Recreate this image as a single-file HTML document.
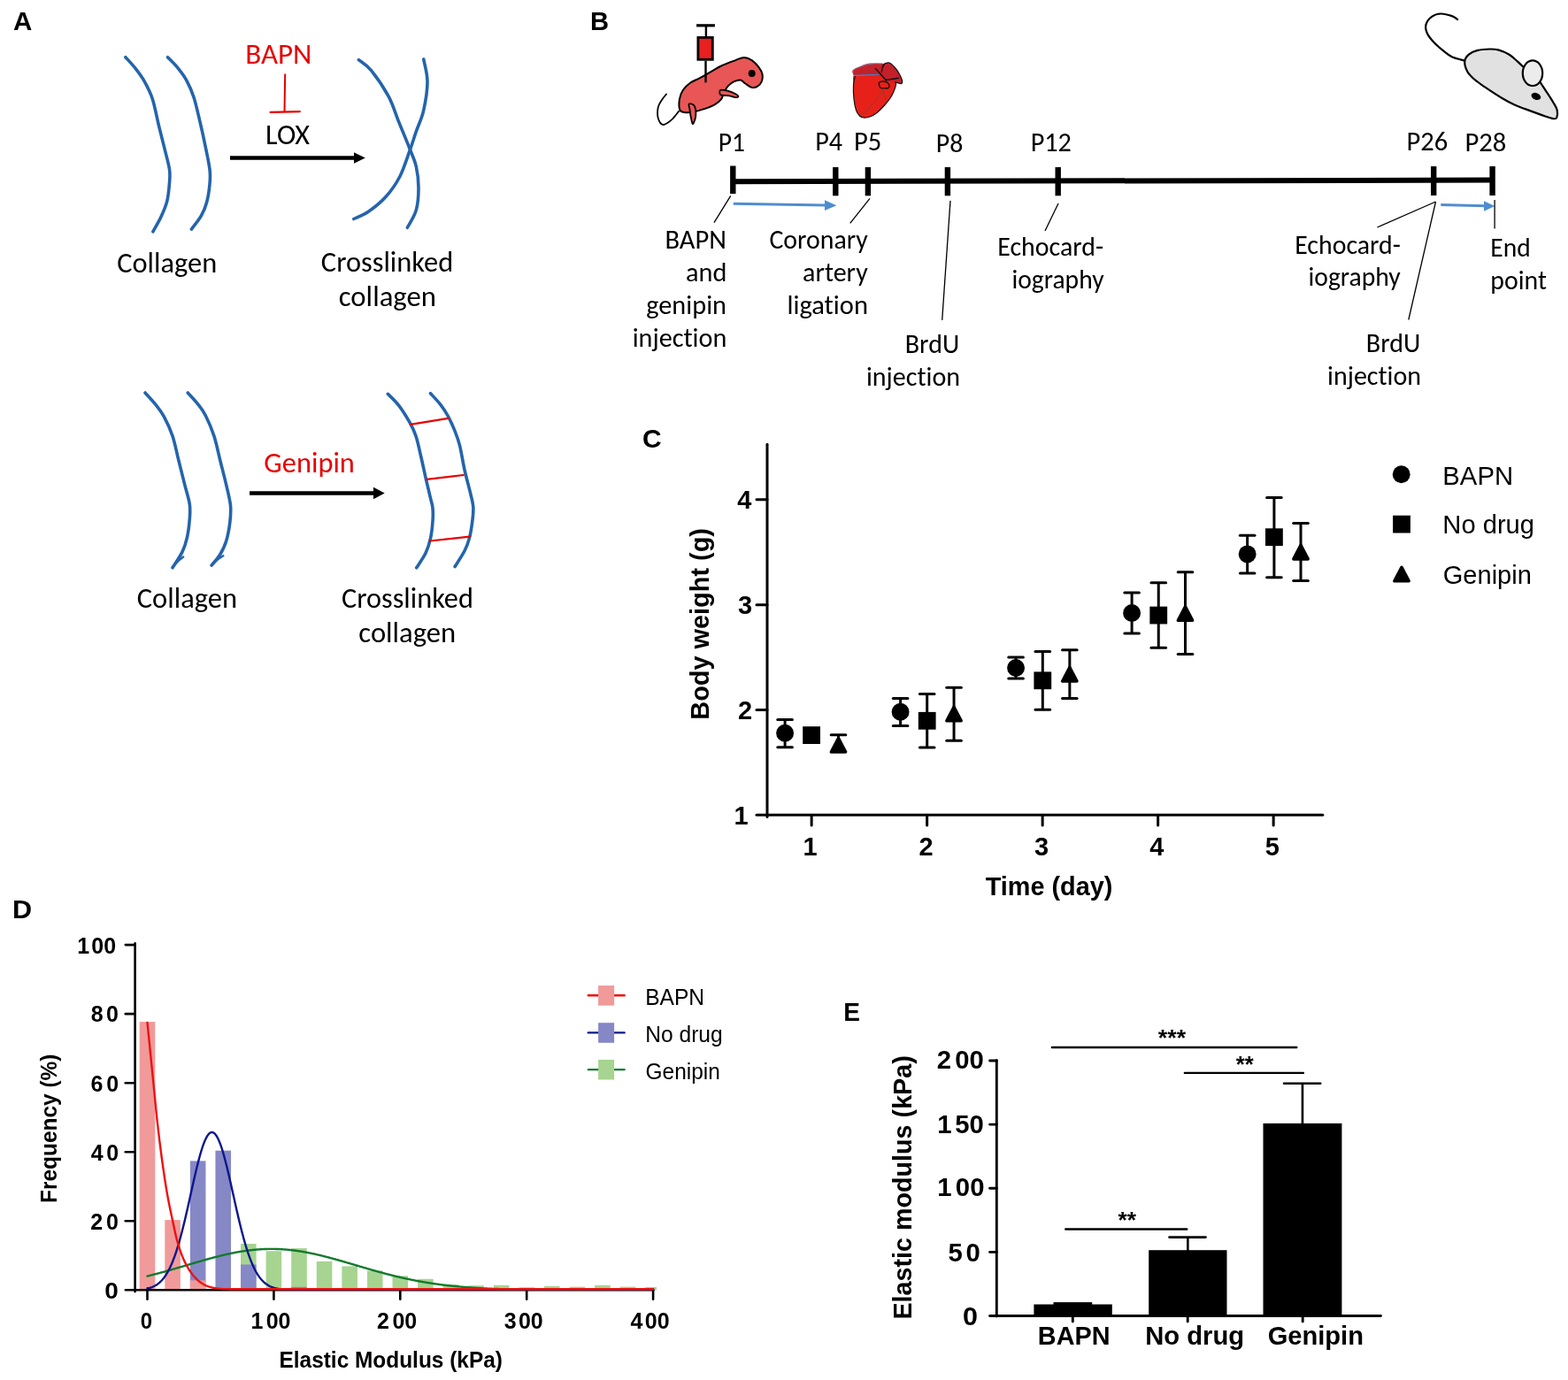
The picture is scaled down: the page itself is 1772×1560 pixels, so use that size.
<!DOCTYPE html>
<html><head><meta charset="utf-8"><title>Figure</title>
<style>html,body{margin:0;padding:0;background:#fff;width:1772px;height:1560px;overflow:hidden}svg{display:block}</style>
</head><body>
<svg width="1772" height="1560" viewBox="0 0 1772 1560">
<rect x="0" y="0" width="1772" height="1560" fill="#fff"/>
<text x="15.06" y="33.6" style="font-family:'Liberation Sans',Arial,sans-serif;font-variant-ligatures:none;font-size:30px;font-weight:bold" fill="#000" text-anchor="start" textLength="21.34" lengthAdjust="spacingAndGlyphs">A</text>
<text x="667.1" y="33.6" style="font-family:'Liberation Sans',Arial,sans-serif;font-variant-ligatures:none;font-size:30px;font-weight:bold" fill="#000" text-anchor="start" textLength="21.07" lengthAdjust="spacingAndGlyphs">B</text>
<text x="725.9" y="505.5" style="font-family:'Liberation Sans',Arial,sans-serif;font-variant-ligatures:none;font-size:30px;font-weight:bold" fill="#000" text-anchor="start" textLength="21.67" lengthAdjust="spacingAndGlyphs">C</text>
<text x="14.07" y="1037.8" style="font-family:'Liberation Sans',Arial,sans-serif;font-variant-ligatures:none;font-size:30px;font-weight:bold" fill="#000" text-anchor="start" textLength="22.12" lengthAdjust="spacingAndGlyphs">D</text>
<text x="953.18" y="1154.2" style="font-family:'Liberation Sans',Arial,sans-serif;font-variant-ligatures:none;font-size:30px;font-weight:bold" fill="#000" text-anchor="start" textLength="18.71" lengthAdjust="spacingAndGlyphs">E</text>
<path d="M141.9 64.7 C143.73 66.77 149.45 72.73 152.9 77.1 C156.35 81.47 159.38 85.17 162.6 90.9 C165.82 96.63 169.45 103.23 172.2 111.5 C174.95 119.77 176.8 131.07 179.1 140.5 C181.4 149.93 183.93 159.6 186 168.1 C188.07 176.6 190.58 185.07 191.5 191.5 C192.42 197.93 191.95 200.72 191.5 206.7 C191.05 212.68 190.4 220.97 188.8 227.4 C187.2 233.83 184.55 239.57 181.9 245.3 C179.25 251.03 174.4 259.05 172.9 261.8" stroke="#2464ac" stroke-width="3.6" fill="none" stroke-linecap="round" stroke-linejoin="round"/>
<path d="M189.5 64.7 C191.45 66.77 197.65 72.73 201.2 77.1 C204.75 81.47 207.82 85.38 210.8 90.9 C213.78 96.42 216.57 102.4 219.1 110.2 C221.63 118 223.93 128.97 226 137.7 C228.07 146.43 229.67 153.63 231.5 162.6 C233.33 171.57 236.08 183.92 237 191.5 C237.92 199.08 237.57 201.9 237 208.1 C236.43 214.3 235.2 222.73 233.6 228.7 C232 234.67 230.27 238.83 227.4 243.9 C224.53 248.97 218.23 256.57 216.4 259.1" stroke="#2464ac" stroke-width="3.6" fill="none" stroke-linecap="round" stroke-linejoin="round"/>
<path d="M405.4 67.6 C407.75 69.6 413.87 72.67 419.5 79.6 C425.13 86.53 434.03 99.57 439.2 109.2 C444.37 118.83 446.5 127.52 450.5 137.4 C454.5 147.28 459.9 160.03 463.2 168.5 C466.5 176.97 468.67 180.92 470.3 188.2 C471.93 195.48 473 203.97 473 212.2 C473 220.43 472.4 230.08 470.3 237.6 C468.2 245.12 462.05 254.02 460.4 257.3" stroke="#2464ac" stroke-width="3.6" fill="none" stroke-linecap="round" stroke-linejoin="round"/>
<path d="M478.7 66.9 C479.42 71.13 483 82.65 483 92.3 C483 101.95 480.82 115.4 478.7 124.8 C476.58 134.2 472.88 141.18 470.3 148.7 C467.72 156.22 466.27 161.43 463.2 169.9 C460.13 178.37 456.37 190.82 451.9 199.5 C447.43 208.18 442.27 215.42 436.4 222 C430.53 228.58 422.82 234.75 416.7 239 C410.58 243.25 402.53 246.08 399.7 247.5" stroke="#2464ac" stroke-width="3.6" fill="none" stroke-linecap="round" stroke-linejoin="round"/>
<path d="M164 444 C165.95 446.18 172.15 452.62 175.7 457.1 C179.25 461.58 182.08 464.93 185.3 470.9 C188.52 476.87 192.23 484.63 195 492.9 C197.77 501.17 199.6 511.3 201.9 520.5 C204.2 529.7 206.73 539.83 208.8 548.1 C210.87 556.37 213.38 563.67 214.3 570.1 C215.22 576.53 214.77 580.48 214.3 586.7 C213.83 592.92 212.88 601.2 211.5 607.4 C210.12 613.6 208.75 618.17 206 623.9 C203.25 629.63 196.83 638.82 195 641.8" stroke="#2464ac" stroke-width="3.6" fill="none" stroke-linecap="round" stroke-linejoin="round"/>
<path d="M212.2 444 C214.15 446.18 220.57 452.85 223.9 457.1 C227.23 461.35 229.2 463.53 232.2 469.5 C235.2 475.47 239.13 484.4 241.9 492.9 C244.67 501.4 246.5 511.3 248.8 520.5 C251.1 529.7 253.75 539.6 255.7 548.1 C257.65 556.6 259.82 564.38 260.5 571.5 C261.18 578.62 260.6 584.13 259.8 590.8 C259 597.47 257.53 605.52 255.7 611.5 C253.87 617.48 251.57 622.1 248.8 626.7 C246.03 631.3 240.72 637.03 239.1 639.1" stroke="#2464ac" stroke-width="3.6" fill="none" stroke-linecap="round" stroke-linejoin="round"/>
<path d="M438.3 445.3 C440.37 447.48 446.57 453 450.7 458.4 C454.83 463.8 459.88 471.95 463.1 477.7 C466.32 483.45 467.93 486.68 470 492.9 C472.07 499.12 473.67 507.18 475.5 515 C477.33 522.82 479.17 531.77 481 539.8 C482.83 547.83 485.17 557.45 486.5 563.2 C487.83 568.95 488.58 569.93 489 574.3 C489.42 578.67 489.42 583.67 489 589.4 C488.58 595.13 487.83 602.72 486.5 608.7 C485.17 614.68 483.63 619.78 481 625.3 C478.37 630.82 472.42 639.05 470.7 641.8" stroke="#2464ac" stroke-width="3.6" fill="none" stroke-linecap="round" stroke-linejoin="round"/>
<path d="M486.5 444.7 C488.35 446.77 494.38 452.97 497.6 457.1 C500.82 461.23 503.05 464.45 505.8 469.5 C508.55 474.55 511.8 481.67 514.1 487.4 C516.4 493.13 517.77 496.55 519.6 503.9 C521.43 511.25 523.03 522.3 525.1 531.5 C527.17 540.7 530.38 552.2 532 559.1 C533.62 566 534.45 568.3 534.8 572.9 C535.15 577.5 534.78 580.95 534.1 586.7 C533.42 592.45 532.2 601.43 530.7 607.4 C529.2 613.37 527.87 616.98 525.1 622.5 C522.33 628.02 515.93 637.5 514.1 640.5" stroke="#2464ac" stroke-width="3.6" fill="none" stroke-linecap="round" stroke-linejoin="round"/>
<path d="M196.5 639.5 Q202 633 207.2 629.6" stroke="#2464ac" stroke-width="2.4" fill="none" stroke-linecap="round" stroke-linejoin="round"/>
<path d="M240.5 637.2 Q246.5 631.5 252.3 628.2" stroke="#2464ac" stroke-width="2.4" fill="none" stroke-linecap="round" stroke-linejoin="round"/>
<line x1="463.8" y1="479.8" x2="506.5" y2="472.9" stroke="#e60000" stroke-width="2.2" stroke-linecap="round"/>
<line x1="482.4" y1="541.9" x2="523.8" y2="537" stroke="#e60000" stroke-width="2.2" stroke-linecap="round"/>
<line x1="485.8" y1="611.5" x2="530.7" y2="606.7" stroke="#e60000" stroke-width="2.2" stroke-linecap="round"/>
<text x="277.29" y="71.5" style="font-family:Carlito,'Liberation Sans',sans-serif;font-variant-ligatures:none;font-size:32.4px;font-weight:normal" fill="#e60000" text-anchor="start" textLength="75.12" lengthAdjust="spacingAndGlyphs">BAPN</text>
<line x1="322.2" y1="83.5" x2="321.5" y2="126.5" stroke="#e60000" stroke-width="2" stroke-linecap="butt"/>
<line x1="305.5" y1="126.8" x2="338.8" y2="126.2" stroke="#e60000" stroke-width="2.2" stroke-linecap="round"/>
<text x="300.11" y="163.2" style="font-family:Carlito,'Liberation Sans',sans-serif;font-variant-ligatures:none;font-size:32.4px;font-weight:normal" fill="#000" text-anchor="start" textLength="49.86" lengthAdjust="spacingAndGlyphs">LOX</text>
<line x1="260" y1="178.5" x2="401" y2="178.5" stroke="#000" stroke-width="4.5" stroke-linecap="butt"/>
<polygon points="400,172.2 412.8,178.5 400,184.8" fill="#000" stroke="none" stroke-width="0"/>
<line x1="282" y1="557.5" x2="423" y2="557.5" stroke="#000" stroke-width="4.5" stroke-linecap="butt"/>
<polygon points="422,550.8 434.7,557.5 422,564.2" fill="#000" stroke="none" stroke-width="0"/>
<text x="298.37" y="533.8" style="font-family:Carlito,'Liberation Sans',sans-serif;font-variant-ligatures:none;font-size:32.4px;font-weight:normal" fill="#e60000" text-anchor="start" textLength="102.53" lengthAdjust="spacingAndGlyphs">Genipin</text>
<text x="132.23" y="307.5" style="font-family:Carlito,'Liberation Sans',sans-serif;font-variant-ligatures:none;font-size:32.4px;font-weight:normal" fill="#000" text-anchor="start" textLength="112.98" lengthAdjust="spacingAndGlyphs">Collagen</text>
<text x="362.83" y="307.2" style="font-family:Carlito,'Liberation Sans',sans-serif;font-variant-ligatures:none;font-size:32.4px;font-weight:normal" fill="#000" text-anchor="start" textLength="149.45" lengthAdjust="spacingAndGlyphs">Crosslinked</text>
<text x="382.75" y="346.3" style="font-family:Carlito,'Liberation Sans',sans-serif;font-variant-ligatures:none;font-size:32.4px;font-weight:normal" fill="#000" text-anchor="start" textLength="110.32" lengthAdjust="spacingAndGlyphs">collagen</text>
<text x="154.72" y="687.4" style="font-family:Carlito,'Liberation Sans',sans-serif;font-variant-ligatures:none;font-size:32.4px;font-weight:normal" fill="#000" text-anchor="start" textLength="113.29" lengthAdjust="spacingAndGlyphs">Collagen</text>
<text x="386.03" y="687.1" style="font-family:Carlito,'Liberation Sans',sans-serif;font-variant-ligatures:none;font-size:32.4px;font-weight:normal" fill="#000" text-anchor="start" textLength="148.93" lengthAdjust="spacingAndGlyphs">Crosslinked</text>
<text x="405.36" y="726.2" style="font-family:Carlito,'Liberation Sans',sans-serif;font-variant-ligatures:none;font-size:32.4px;font-weight:normal" fill="#000" text-anchor="start" textLength="109.91" lengthAdjust="spacingAndGlyphs">collagen</text>
<line x1="826" y1="205.2" x2="1689" y2="203.6" stroke="#000" stroke-width="6" stroke-linecap="butt"/>
<line x1="828.3" y1="187.5" x2="828.3" y2="219" stroke="#000" stroke-width="6.4" stroke-linecap="butt"/>
<line x1="944.3" y1="189" x2="944.3" y2="221.3" stroke="#000" stroke-width="6.4" stroke-linecap="butt"/>
<line x1="980.9" y1="189" x2="980.9" y2="221.3" stroke="#000" stroke-width="6.4" stroke-linecap="butt"/>
<line x1="1070.9" y1="189" x2="1070.9" y2="221.3" stroke="#000" stroke-width="6.4" stroke-linecap="butt"/>
<line x1="1195.7" y1="189" x2="1195.7" y2="221.3" stroke="#000" stroke-width="6.4" stroke-linecap="butt"/>
<line x1="1620.2" y1="188" x2="1620.2" y2="221" stroke="#000" stroke-width="6.4" stroke-linecap="butt"/>
<line x1="1686.6" y1="188" x2="1686.6" y2="221" stroke="#000" stroke-width="6.4" stroke-linecap="butt"/>
<text x="811.74" y="170.7" style="font-family:Carlito,'Liberation Sans',sans-serif;font-variant-ligatures:none;font-size:30.2px;font-weight:normal" fill="#000" text-anchor="start" textLength="30.14" lengthAdjust="spacingAndGlyphs">P1</text>
<text x="921.19" y="170" style="font-family:Carlito,'Liberation Sans',sans-serif;font-variant-ligatures:none;font-size:30.2px;font-weight:normal" fill="#000" text-anchor="start" textLength="30.87" lengthAdjust="spacingAndGlyphs">P4</text>
<text x="965.06" y="169.8" style="font-family:Carlito,'Liberation Sans',sans-serif;font-variant-ligatures:none;font-size:30.2px;font-weight:normal" fill="#000" text-anchor="start" textLength="31.33" lengthAdjust="spacingAndGlyphs">P5</text>
<text x="1057.81" y="172.4" style="font-family:Carlito,'Liberation Sans',sans-serif;font-variant-ligatures:none;font-size:30.2px;font-weight:normal" fill="#000" text-anchor="start" textLength="30.54" lengthAdjust="spacingAndGlyphs">P8</text>
<text x="1164.69" y="171" style="font-family:Carlito,'Liberation Sans',sans-serif;font-variant-ligatures:none;font-size:30.2px;font-weight:normal" fill="#000" text-anchor="start" textLength="46.23" lengthAdjust="spacingAndGlyphs">P12</text>
<text x="1589.56" y="170" style="font-family:Carlito,'Liberation Sans',sans-serif;font-variant-ligatures:none;font-size:30.2px;font-weight:normal" fill="#000" text-anchor="start" textLength="46.71" lengthAdjust="spacingAndGlyphs">P26</text>
<text x="1655.46" y="170.7" style="font-family:Carlito,'Liberation Sans',sans-serif;font-variant-ligatures:none;font-size:30.2px;font-weight:normal" fill="#000" text-anchor="start" textLength="46.88" lengthAdjust="spacingAndGlyphs">P28</text>
<text x="751.47" y="281.25" style="font-family:Carlito,'Liberation Sans',sans-serif;font-variant-ligatures:none;font-size:30.2px;font-weight:normal" fill="#000" text-anchor="start" textLength="69.37" lengthAdjust="spacingAndGlyphs">BAPN</text>
<text x="774.99" y="318.3" style="font-family:Carlito,'Liberation Sans',sans-serif;font-variant-ligatures:none;font-size:30.2px;font-weight:normal" fill="#000" text-anchor="start" textLength="46.33" lengthAdjust="spacingAndGlyphs">and</text>
<text x="730.29" y="354.8" style="font-family:Carlito,'Liberation Sans',sans-serif;font-variant-ligatures:none;font-size:30.2px;font-weight:normal" fill="#000" text-anchor="start" textLength="90.73" lengthAdjust="spacingAndGlyphs">genipin</text>
<text x="714.64" y="391.8" style="font-family:Carlito,'Liberation Sans',sans-serif;font-variant-ligatures:none;font-size:30.2px;font-weight:normal" fill="#000" text-anchor="start" textLength="106.63" lengthAdjust="spacingAndGlyphs">injection</text>
<text x="869.4" y="281.3" style="font-family:Carlito,'Liberation Sans',sans-serif;font-variant-ligatures:none;font-size:30.2px;font-weight:normal" fill="#000" text-anchor="start" textLength="111.38" lengthAdjust="spacingAndGlyphs">Coronary</text>
<text x="907.1" y="317.8" style="font-family:Carlito,'Liberation Sans',sans-serif;font-variant-ligatures:none;font-size:30.2px;font-weight:normal" fill="#000" text-anchor="start" textLength="73.67" lengthAdjust="spacingAndGlyphs">artery</text>
<text x="889.46" y="354.7" style="font-family:Carlito,'Liberation Sans',sans-serif;font-variant-ligatures:none;font-size:30.2px;font-weight:normal" fill="#000" text-anchor="start" textLength="91.56" lengthAdjust="spacingAndGlyphs">ligation</text>
<text x="1022.8" y="398.8" style="font-family:Carlito,'Liberation Sans',sans-serif;font-variant-ligatures:none;font-size:30.2px;font-weight:normal" fill="#000" text-anchor="start" textLength="61.38" lengthAdjust="spacingAndGlyphs">BrdU</text>
<text x="978.95" y="436" style="font-family:Carlito,'Liberation Sans',sans-serif;font-variant-ligatures:none;font-size:30.2px;font-weight:normal" fill="#000" text-anchor="start" textLength="106.11" lengthAdjust="spacingAndGlyphs">injection</text>
<text x="1127.21" y="288.95" style="font-family:Carlito,'Liberation Sans',sans-serif;font-variant-ligatures:none;font-size:30.2px;font-weight:normal" fill="#000" text-anchor="start" textLength="119.95" lengthAdjust="spacingAndGlyphs">Echocard-</text>
<text x="1143.47" y="325.5" style="font-family:Carlito,'Liberation Sans',sans-serif;font-variant-ligatures:none;font-size:30.2px;font-weight:normal" fill="#000" text-anchor="start" textLength="104.06" lengthAdjust="spacingAndGlyphs">iography</text>
<text x="1463.21" y="286.7" style="font-family:Carlito,'Liberation Sans',sans-serif;font-variant-ligatures:none;font-size:30.2px;font-weight:normal" fill="#000" text-anchor="start" textLength="119.64" lengthAdjust="spacingAndGlyphs">Echocard-</text>
<text x="1478.47" y="323.4" style="font-family:Carlito,'Liberation Sans',sans-serif;font-variant-ligatures:none;font-size:30.2px;font-weight:normal" fill="#000" text-anchor="start" textLength="104.26" lengthAdjust="spacingAndGlyphs">iography</text>
<text x="1543.8" y="397.9" style="font-family:Carlito,'Liberation Sans',sans-serif;font-variant-ligatures:none;font-size:30.2px;font-weight:normal" fill="#000" text-anchor="start" textLength="61.49" lengthAdjust="spacingAndGlyphs">BrdU</text>
<text x="1500.05" y="434.5" style="font-family:Carlito,'Liberation Sans',sans-serif;font-variant-ligatures:none;font-size:30.2px;font-weight:normal" fill="#000" text-anchor="start" textLength="106.01" lengthAdjust="spacingAndGlyphs">injection</text>
<text x="1684.33" y="289.7" style="font-family:Carlito,'Liberation Sans',sans-serif;font-variant-ligatures:none;font-size:30.2px;font-weight:normal" fill="#000" text-anchor="start" textLength="45.51" lengthAdjust="spacingAndGlyphs">End</text>
<text x="1684.31" y="326.6" style="font-family:Carlito,'Liberation Sans',sans-serif;font-variant-ligatures:none;font-size:30.2px;font-weight:normal" fill="#000" text-anchor="start" textLength="63.64" lengthAdjust="spacingAndGlyphs">point</text>
<line x1="828.8" y1="230.3" x2="933" y2="232" stroke="#4f8dcf" stroke-width="3" stroke-linecap="butt"/>
<polygon points="932,226.3 945.4,232.2 932,238.1" fill="#4f8dcf" stroke="none" stroke-width="0"/>
<line x1="1628.3" y1="231.6" x2="1678" y2="232.8" stroke="#4f8dcf" stroke-width="3" stroke-linecap="butt"/>
<polygon points="1677,227.2 1689.3,233.1 1677,238.8" fill="#4f8dcf" stroke="none" stroke-width="0"/>
<line x1="825.7" y1="221.3" x2="807" y2="251.7" stroke="#000" stroke-width="1.3" stroke-linecap="butt"/>
<line x1="983" y1="224.4" x2="960.7" y2="252.3" stroke="#000" stroke-width="1.3" stroke-linecap="butt"/>
<line x1="1074" y1="226.9" x2="1064.7" y2="361.9" stroke="#000" stroke-width="1.3" stroke-linecap="butt"/>
<line x1="1196" y1="230" x2="1181" y2="261" stroke="#000" stroke-width="1.3" stroke-linecap="butt"/>
<line x1="1622.5" y1="228" x2="1556.4" y2="257" stroke="#000" stroke-width="1.3" stroke-linecap="butt"/>
<line x1="1622.5" y1="228" x2="1591.8" y2="361.5" stroke="#000" stroke-width="1.3" stroke-linecap="butt"/>
<line x1="1689.1" y1="226" x2="1689.1" y2="258.5" stroke="#000" stroke-width="1.3" stroke-linecap="butt"/>
<line x1="787.1" y1="28.8" x2="807.9" y2="28.8" stroke="#000" stroke-width="3.2" stroke-linecap="butt"/>
<line x1="797.9" y1="30" x2="797.9" y2="41.5" stroke="#000" stroke-width="2.4" stroke-linecap="butt"/>
<rect x="788.9" y="42.4" width="16.4" height="24.9" fill="#e82020" stroke="#000" stroke-width="2.8"/>
<line x1="797.5" y1="68.7" x2="797.5" y2="84.5" stroke="#000" stroke-width="2.4" stroke-linecap="butt"/>
<path d="M798.3 84.1 C802.57 81.7 809.62 77.17 815.1 74.5 C820.58 71.83 826.92 69.7 831.2 68.1 C835.48 66.5 837.73 64.9 840.8 64.9 C843.87 64.9 846.8 66.23 849.6 68.1 C852.4 69.97 855.6 73.43 857.6 76.1 C859.6 78.77 861.07 81.43 861.6 84.1 C862.13 86.77 861.73 89.83 860.8 92.1 C859.87 94.37 857.87 96.57 856 97.7 C854.13 98.83 851.87 99.43 849.6 98.9 C847.33 98.37 844.53 95.9 842.4 94.5 C840.27 93.1 838.93 90.9 836.8 90.5 C834.67 90.1 831.88 91.03 829.6 92.1 C827.32 93.17 824.98 94.9 823.1 96.9 C821.22 98.9 819.63 101.57 818.3 104.1 C816.97 106.63 816.97 109.68 815.1 112.1 C813.23 114.52 810.43 116.72 807.1 118.6 C803.77 120.48 799.1 122.07 795.1 123.4 C791.1 124.73 786.7 126 783.1 126.6 C779.5 127.2 775.97 127.4 773.5 127 C771.03 126.6 769.23 126.68 768.3 124.2 C767.37 121.72 767.3 115.85 767.9 112.1 C768.5 108.35 769.9 104.77 771.9 101.7 C773.9 98.63 776.97 95.83 779.9 93.7 C782.83 91.57 786.43 90.5 789.5 88.9 C792.57 87.3 794.03 86.5 798.3 84.1Z" stroke="#000" stroke-width="2" fill="#e85656" stroke-linecap="round" stroke-linejoin="round"/>
<line x1="797.5" y1="84" x2="797.5" y2="93.3" stroke="#000" stroke-width="2.4" stroke-linecap="butt"/>
<circle cx="849.7" cy="82.9" r="4" fill="#000"/>
<path d="M814.3 101.7 C815.77 100.97 820.42 102.23 823.1 102.9 C825.78 103.57 828.52 104.7 830.4 105.7 C832.28 106.7 834.27 108.17 834.4 108.9 C834.53 109.63 833.08 110.23 831.2 110.1 C829.32 109.97 825.92 108.57 823.1 108.1 C820.28 107.63 815.77 108.37 814.3 107.3 C812.83 106.23 812.83 102.43 814.3 101.7Z" stroke="#000" stroke-width="1.8" fill="#e85656" stroke-linecap="round" stroke-linejoin="round"/>
<path d="M778.7 117.4 C779.57 116.67 783.43 117.6 784.7 119.8 C785.97 122 786.57 127.2 786.3 130.6 C786.03 134 784.03 139.93 783.1 140.2 C782.17 140.47 781.3 134.87 780.7 132.2 C780.1 129.53 779.83 126.67 779.5 124.2 C779.17 121.73 777.83 118.13 778.7 117.4Z" stroke="#000" stroke-width="1.8" fill="#e85656" stroke-linecap="round" stroke-linejoin="round"/>
<path d="M767 125.8 C765.67 127.4 761.93 132.87 759 135.4 C756.07 137.93 751.93 141.27 749.4 141 C746.87 140.73 744.73 137.13 743.8 133.8 C742.87 130.47 743 124.62 743.8 121 C744.6 117.38 747.07 114.52 748.6 112.1 C750.13 109.68 752.27 107.43 753 106.5" stroke="#000" stroke-width="1.8" fill="none" stroke-linecap="round" stroke-linejoin="round"/>
<path d="M966 84 C962.58 86.17 964.67 91.33 964.5 96 C964.33 100.67 964.5 107.25 965 112 C965.5 116.75 966.42 121.33 967.5 124.5 C968.58 127.67 970.08 129.58 971.5 131 C972.92 132.42 974.08 132.83 976 133 C977.92 133.17 980.5 132.92 983 132 C985.5 131.08 988.17 129.75 991 127.5 C993.83 125.25 997.5 121.25 1000 118.5 C1002.5 115.75 1004.33 113.5 1006 111 C1007.67 108.5 1008.92 106 1010 103.5 C1011.08 101 1012.17 98.25 1012.5 96 C1012.83 93.75 1013.42 92 1012 90 C1010.58 88 1008.5 85.17 1004 84 C999.5 82.83 991.33 83 985 83 C978.67 83 969.42 81.83 966 84Z" stroke="none" stroke-width="1" fill="#e8201a" stroke-linecap="round" stroke-linejoin="round"/>
<path d="M966.5 85.5 C966.17 87.25 964.75 91.58 964.5 96 C964.25 100.42 964.5 107.25 965 112 C965.5 116.75 966.42 121.33 967.5 124.5 C968.58 127.67 970.08 129.58 971.5 131 C972.92 132.42 974.08 132.83 976 133 C977.92 133.17 980.5 132.92 983 132 C985.5 131.08 988.17 129.75 991 127.5 C993.83 125.25 997.5 121.25 1000 118.5 C1002.5 115.75 1004.33 113.5 1006 111 C1007.67 108.5 1008.92 106 1010 103.5 C1011.08 101 1012.17 98.08 1012.5 96 C1012.83 93.92 1012.08 91.83 1012 91" stroke="#111" stroke-width="1.2" fill="none" stroke-linecap="round" stroke-linejoin="round"/>
<path d="M964 79 C965.08 78 967.33 77.17 970 76 C972.67 74.83 976.67 72.75 980 72 C983.33 71.25 986.67 71.42 990 71.5 C993.33 71.58 998.17 71.08 1000 72.5 C1001.83 73.92 1001.33 77.92 1001 80 C1000.67 82.08 1000.67 84.2 998 85 C995.33 85.8 988.83 84.83 985 84.8 C981.17 84.77 978.17 84.68 975 84.8 C971.83 84.92 967.92 85.97 966 85.5 C964.08 85.03 963.83 83.08 963.5 82 C963.17 80.92 962.92 80 964 79Z" stroke="none" stroke-width="1" fill="#c4202a" stroke-linecap="round" stroke-linejoin="round"/>
<path d="M965 85.4 Q980 84.8 993 84.2" stroke="#4a86c8" stroke-width="1.1" fill="none" stroke-linecap="round" stroke-linejoin="round"/>
<path d="M963.8 82 Q963.5 78 970 76 Q980 72 990 71.6 L996 72" stroke="#6a9ad6" stroke-width="0.7" fill="none" stroke-linecap="round" stroke-linejoin="round"/>
<path d="M999 72.5 C1000.25 71.67 1003 70.42 1005 71 C1007 71.58 1009.17 74 1011 76 C1012.83 78 1014.58 80.5 1016 83 C1017.42 85.5 1019.08 89.08 1019.5 91 C1019.92 92.92 1019.75 94.17 1018.5 94.5 C1017.25 94.83 1014.42 93.5 1012 93 C1009.58 92.5 1006.25 92.08 1004 91.5 C1001.75 90.92 999.75 91.08 998.5 89.5 C997.25 87.92 996.67 84.25 996.5 82 C996.33 79.75 997.08 77.58 997.5 76 C997.92 74.42 997.75 73.33 999 72.5Z" stroke="none" stroke-width="1" fill="#c4202a" stroke-linecap="round" stroke-linejoin="round"/>
<path d="M997.5 76 C997.75 75.42 997.75 73.33 999 72.5 C1000.25 71.67 1003 70.42 1005 71 C1007 71.58 1009.17 74 1011 76 C1012.83 78 1014.58 80.5 1016 83 C1017.42 85.5 1019.08 89.08 1019.5 91 C1019.92 92.92 1019.75 94.17 1018.5 94.5 C1017.25 94.83 1013.08 93.25 1012 93" stroke="#111" stroke-width="1.3" fill="none" stroke-linecap="round" stroke-linejoin="round"/>
<path d="M999.5 72.3 Q996.5 76 996.3 81.5" stroke="#111" stroke-width="1.2" fill="none" stroke-linecap="round" stroke-linejoin="round"/>
<path d="M989.5 77.5 L1001.5 91 M1001 90.5 L1015.5 88.2" stroke="#111" stroke-width="1.4" fill="none" stroke-linecap="round" stroke-linejoin="round"/>
<path d="M994 93 C995.05 92.22 998.25 91.97 1000 92.3 C1001.75 92.63 1003.83 93.83 1004.5 95 C1005.17 96.17 1005.42 98.53 1004 99.3 C1002.58 100.07 997.72 99.98 996 99.6 C994.28 99.22 994.03 98.1 993.7 97 C993.37 95.9 992.95 93.78 994 93Z" stroke="#111" stroke-width="1.4" fill="none" stroke-linecap="round" stroke-linejoin="round"/>
<path d="M998.5 100 Q990 116 973.5 130.5 M998 101 Q1000 110 1001.5 115" stroke="#8a4020" stroke-width="0.9" fill="none" stroke-linecap="round" stroke-linejoin="round"/>
<path d="M1647.1 22 C1646.05 21.35 1643.97 19.18 1640.8 18.1 C1637.63 17.02 1631.83 15.42 1628.1 15.5 C1624.37 15.58 1621.15 16.63 1618.4 18.6 C1615.65 20.57 1612.57 24.23 1611.6 27.3 C1610.63 30.37 1611.3 33.77 1612.6 37 C1613.9 40.23 1616.32 43.3 1619.4 46.7 C1622.48 50.1 1627.53 54.48 1631.1 57.4 C1634.67 60.32 1636.77 62.33 1640.8 64.2 C1644.83 66.07 1652.88 67.87 1655.3 68.6" stroke="#000" stroke-width="2.2" fill="none" stroke-linecap="round" stroke-linejoin="round"/>
<path d="M1655.3 69.1 C1655.63 65.87 1657.77 63.33 1660.2 61.3 C1662.63 59.27 1666.02 57.87 1669.9 56.9 C1673.78 55.93 1679.62 55.58 1683.5 55.5 C1687.38 55.42 1689.65 55.43 1693.2 56.4 C1696.75 57.37 1701.25 59.18 1704.8 61.3 C1708.35 63.42 1711.63 66.65 1714.5 69.1 C1717.37 71.55 1718.58 73.18 1722 76 C1725.42 78.82 1731.87 83.12 1735 86 C1738.13 88.88 1738.87 90.62 1740.8 93.3 C1742.73 95.98 1744.18 98.37 1746.6 102.1 C1749.02 105.83 1753.12 111.98 1755.3 115.7 C1757.48 119.42 1759.05 121.5 1759.7 124.4 C1760.35 127.3 1759.93 131.48 1759.2 133.1 C1758.47 134.72 1757.57 134.42 1755.3 134.1 C1753.03 133.78 1750.78 132.98 1745.6 131.2 C1740.42 129.42 1729.87 125.5 1724.2 123.4 C1718.53 121.3 1716.12 120.7 1711.6 118.6 C1707.08 116.5 1702.75 114.2 1697.1 110.8 C1691.45 107.4 1682.88 101.75 1677.7 98.2 C1672.52 94.65 1669.25 92.42 1666 89.5 C1662.75 86.58 1659.98 84.1 1658.2 80.7 C1656.42 77.3 1654.97 72.33 1655.3 69.1Z" stroke="#000" stroke-width="2.2" fill="#e2e1e2" stroke-linecap="round" stroke-linejoin="round"/>
<ellipse cx="1732" cy="82.7" rx="11.2" ry="14.3" fill="#ececec" stroke="#000" stroke-width="2.2"/>
<ellipse cx="1735.9" cy="108.9" rx="5.6" ry="3.8" fill="#000" transform="rotate(22 1735.9 108.9)"/>
<line x1="867" y1="502.3" x2="867" y2="923.5" stroke="#000" stroke-width="3" stroke-linecap="round"/>
<line x1="855" y1="921.3" x2="1494.8" y2="921.3" stroke="#000" stroke-width="3" stroke-linecap="round"/>
<line x1="855" y1="802.47" x2="867" y2="802.47" stroke="#000" stroke-width="3" stroke-linecap="round"/>
<line x1="855" y1="683.64" x2="867" y2="683.64" stroke="#000" stroke-width="3" stroke-linecap="round"/>
<line x1="855" y1="564.81" x2="867" y2="564.81" stroke="#000" stroke-width="3" stroke-linecap="round"/>
<text x="829.43" y="931.5" style="font-family:'Liberation Sans',Arial,sans-serif;font-variant-ligatures:none;font-size:29px;font-weight:bold" fill="#000" text-anchor="start" textLength="16.13" lengthAdjust="spacingAndGlyphs">1</text>
<text x="834.07" y="812.67" style="font-family:'Liberation Sans',Arial,sans-serif;font-variant-ligatures:none;font-size:29px;font-weight:bold" fill="#000" text-anchor="start" textLength="16.13" lengthAdjust="spacingAndGlyphs">2</text>
<text x="833.92" y="693.84" style="font-family:'Liberation Sans',Arial,sans-serif;font-variant-ligatures:none;font-size:29px;font-weight:bold" fill="#000" text-anchor="start" textLength="16.13" lengthAdjust="spacingAndGlyphs">3</text>
<text x="833.15" y="575.01" style="font-family:'Liberation Sans',Arial,sans-serif;font-variant-ligatures:none;font-size:29px;font-weight:bold" fill="#000" text-anchor="start" textLength="16.13" lengthAdjust="spacingAndGlyphs">4</text>
<line x1="917.15" y1="921.3" x2="917.15" y2="932.9" stroke="#000" stroke-width="3" stroke-linecap="round"/>
<text x="907.39" y="966.5" style="font-family:'Liberation Sans',Arial,sans-serif;font-variant-ligatures:none;font-size:29px;font-weight:bold" fill="#000" text-anchor="start" textLength="16.13" lengthAdjust="spacingAndGlyphs">1</text>
<line x1="1047.65" y1="921.3" x2="1047.65" y2="932.9" stroke="#000" stroke-width="3" stroke-linecap="round"/>
<text x="1038.47" y="966.5" style="font-family:'Liberation Sans',Arial,sans-serif;font-variant-ligatures:none;font-size:29px;font-weight:bold" fill="#000" text-anchor="start" textLength="16.13" lengthAdjust="spacingAndGlyphs">2</text>
<line x1="1178.15" y1="921.3" x2="1178.15" y2="932.9" stroke="#000" stroke-width="3" stroke-linecap="round"/>
<text x="1169.05" y="966.5" style="font-family:'Liberation Sans',Arial,sans-serif;font-variant-ligatures:none;font-size:29px;font-weight:bold" fill="#000" text-anchor="start" textLength="16.13" lengthAdjust="spacingAndGlyphs">3</text>
<line x1="1308.65" y1="921.3" x2="1308.65" y2="932.9" stroke="#000" stroke-width="3" stroke-linecap="round"/>
<text x="1299.26" y="966.5" style="font-family:'Liberation Sans',Arial,sans-serif;font-variant-ligatures:none;font-size:29px;font-weight:bold" fill="#000" text-anchor="start" textLength="16.13" lengthAdjust="spacingAndGlyphs">4</text>
<line x1="1439.15" y1="921.3" x2="1439.15" y2="932.9" stroke="#000" stroke-width="3" stroke-linecap="round"/>
<text x="1429.83" y="966.5" style="font-family:'Liberation Sans',Arial,sans-serif;font-variant-ligatures:none;font-size:29px;font-weight:bold" fill="#000" text-anchor="start" textLength="16.13" lengthAdjust="spacingAndGlyphs">5</text>
<text x="1113.71" y="1012.05" style="font-family:'Liberation Sans',Arial,sans-serif;font-variant-ligatures:none;font-size:29px;font-weight:bold" fill="#000" text-anchor="start" textLength="143.67" lengthAdjust="spacingAndGlyphs">Time (day)</text>
<text transform="translate(801 813.68) rotate(-90)" x="0" y="0" style="font-family:'Liberation Sans',Arial,sans-serif;font-variant-ligatures:none;font-size:29px;font-weight:bold" fill="#000" textLength="216.59" lengthAdjust="spacingAndGlyphs">Body weight (g)</text>
<line x1="887.1" y1="813.4" x2="887.1" y2="828.7" stroke="#000" stroke-width="3" stroke-linecap="butt"/>
<line x1="878.8" y1="813.4" x2="895.4" y2="813.4" stroke="#000" stroke-width="3" stroke-linecap="round"/>
<line x1="887.1" y1="828.7" x2="887.1" y2="844.7" stroke="#000" stroke-width="3" stroke-linecap="butt"/>
<line x1="878.8" y1="844.7" x2="895.4" y2="844.7" stroke="#000" stroke-width="3" stroke-linecap="round"/>
<circle cx="887.1" cy="828.7" r="9.95" fill="#000"/>
<rect x="907.2" y="821.2" width="19.8" height="19.8" fill="#000"/>
<line x1="947.5" y1="830.8" x2="947.5" y2="842.4" stroke="#000" stroke-width="3" stroke-linecap="butt"/>
<line x1="939.2" y1="830.8" x2="955.8" y2="830.8" stroke="#000" stroke-width="3" stroke-linecap="round"/>
<polygon points="939.4,850 955.6,850 947.5,834.5" fill="#000" stroke="#000" stroke-width="3.6" stroke-linejoin="round"/>
<line x1="1017.6" y1="789.6" x2="1017.6" y2="804.7" stroke="#000" stroke-width="3" stroke-linecap="butt"/>
<line x1="1009.3" y1="789.6" x2="1025.9" y2="789.6" stroke="#000" stroke-width="3" stroke-linecap="round"/>
<line x1="1017.6" y1="804.7" x2="1017.6" y2="820.5" stroke="#000" stroke-width="3" stroke-linecap="butt"/>
<line x1="1009.3" y1="820.5" x2="1025.9" y2="820.5" stroke="#000" stroke-width="3" stroke-linecap="round"/>
<circle cx="1017.6" cy="804.7" r="9.95" fill="#000"/>
<line x1="1047.7" y1="784.4" x2="1047.7" y2="814.8" stroke="#000" stroke-width="3" stroke-linecap="butt"/>
<line x1="1039.4" y1="784.4" x2="1056" y2="784.4" stroke="#000" stroke-width="3" stroke-linecap="round"/>
<line x1="1047.7" y1="814.8" x2="1047.7" y2="844.9" stroke="#000" stroke-width="3" stroke-linecap="butt"/>
<line x1="1039.4" y1="844.9" x2="1056" y2="844.9" stroke="#000" stroke-width="3" stroke-linecap="round"/>
<rect x="1037.8" y="804.9" width="19.8" height="19.8" fill="#000"/>
<line x1="1078.05" y1="777.3" x2="1078.05" y2="807.2" stroke="#000" stroke-width="3" stroke-linecap="butt"/>
<line x1="1069.75" y1="777.3" x2="1086.35" y2="777.3" stroke="#000" stroke-width="3" stroke-linecap="round"/>
<line x1="1078.05" y1="807.2" x2="1078.05" y2="837.3" stroke="#000" stroke-width="3" stroke-linecap="butt"/>
<line x1="1069.75" y1="837.3" x2="1086.35" y2="837.3" stroke="#000" stroke-width="3" stroke-linecap="round"/>
<polygon points="1069.95,814.8 1086.15,814.8 1078.05,799.3" fill="#000" stroke="#000" stroke-width="3.6" stroke-linejoin="round"/>
<line x1="1148.05" y1="742.9" x2="1148.05" y2="755.05" stroke="#000" stroke-width="3" stroke-linecap="butt"/>
<line x1="1139.75" y1="742.9" x2="1156.35" y2="742.9" stroke="#000" stroke-width="3" stroke-linecap="round"/>
<line x1="1148.05" y1="755.05" x2="1148.05" y2="767" stroke="#000" stroke-width="3" stroke-linecap="butt"/>
<line x1="1139.75" y1="767" x2="1156.35" y2="767" stroke="#000" stroke-width="3" stroke-linecap="round"/>
<circle cx="1148.05" cy="755.05" r="9.95" fill="#000"/>
<line x1="1178.3" y1="736.6" x2="1178.3" y2="769.3" stroke="#000" stroke-width="3" stroke-linecap="butt"/>
<line x1="1170" y1="736.6" x2="1186.6" y2="736.6" stroke="#000" stroke-width="3" stroke-linecap="round"/>
<line x1="1178.3" y1="769.3" x2="1178.3" y2="802.3" stroke="#000" stroke-width="3" stroke-linecap="butt"/>
<line x1="1170" y1="802.3" x2="1186.6" y2="802.3" stroke="#000" stroke-width="3" stroke-linecap="round"/>
<rect x="1168.4" y="759.4" width="19.8" height="19.8" fill="#000"/>
<line x1="1208.85" y1="734.7" x2="1208.85" y2="762.4" stroke="#000" stroke-width="3" stroke-linecap="butt"/>
<line x1="1200.55" y1="734.7" x2="1217.15" y2="734.7" stroke="#000" stroke-width="3" stroke-linecap="round"/>
<line x1="1208.85" y1="762.4" x2="1208.85" y2="789.6" stroke="#000" stroke-width="3" stroke-linecap="butt"/>
<line x1="1200.55" y1="789.6" x2="1217.15" y2="789.6" stroke="#000" stroke-width="3" stroke-linecap="round"/>
<polygon points="1200.75,770 1216.95,770 1208.85,754.5" fill="#000" stroke="#000" stroke-width="3.6" stroke-linejoin="round"/>
<line x1="1279.1" y1="670.1" x2="1279.1" y2="693" stroke="#000" stroke-width="3" stroke-linecap="butt"/>
<line x1="1270.8" y1="670.1" x2="1287.4" y2="670.1" stroke="#000" stroke-width="3" stroke-linecap="round"/>
<line x1="1279.1" y1="693" x2="1279.1" y2="716" stroke="#000" stroke-width="3" stroke-linecap="butt"/>
<line x1="1270.8" y1="716" x2="1287.4" y2="716" stroke="#000" stroke-width="3" stroke-linecap="round"/>
<circle cx="1279.1" cy="693" r="9.95" fill="#000"/>
<line x1="1309.25" y1="658.7" x2="1309.25" y2="695.55" stroke="#000" stroke-width="3" stroke-linecap="butt"/>
<line x1="1300.95" y1="658.7" x2="1317.55" y2="658.7" stroke="#000" stroke-width="3" stroke-linecap="round"/>
<line x1="1309.25" y1="695.55" x2="1309.25" y2="732.2" stroke="#000" stroke-width="3" stroke-linecap="butt"/>
<line x1="1300.95" y1="732.2" x2="1317.55" y2="732.2" stroke="#000" stroke-width="3" stroke-linecap="round"/>
<rect x="1299.35" y="685.65" width="19.8" height="19.8" fill="#000"/>
<line x1="1339.5" y1="646.7" x2="1339.5" y2="693.7" stroke="#000" stroke-width="3" stroke-linecap="butt"/>
<line x1="1331.2" y1="646.7" x2="1347.8" y2="646.7" stroke="#000" stroke-width="3" stroke-linecap="round"/>
<line x1="1339.5" y1="693.7" x2="1339.5" y2="739.5" stroke="#000" stroke-width="3" stroke-linecap="butt"/>
<line x1="1331.2" y1="739.5" x2="1347.8" y2="739.5" stroke="#000" stroke-width="3" stroke-linecap="round"/>
<polygon points="1331.4,701.3 1347.6,701.3 1339.5,685.8" fill="#000" stroke="#000" stroke-width="3.6" stroke-linejoin="round"/>
<line x1="1409.65" y1="605.2" x2="1409.65" y2="626.4" stroke="#000" stroke-width="3" stroke-linecap="butt"/>
<line x1="1401.35" y1="605.2" x2="1417.95" y2="605.2" stroke="#000" stroke-width="3" stroke-linecap="round"/>
<line x1="1409.65" y1="626.4" x2="1409.65" y2="647.9" stroke="#000" stroke-width="3" stroke-linecap="butt"/>
<line x1="1401.35" y1="647.9" x2="1417.95" y2="647.9" stroke="#000" stroke-width="3" stroke-linecap="round"/>
<circle cx="1409.65" cy="626.4" r="9.95" fill="#000"/>
<line x1="1439.9" y1="562.4" x2="1439.9" y2="607.2" stroke="#000" stroke-width="3" stroke-linecap="butt"/>
<line x1="1431.6" y1="562.4" x2="1448.2" y2="562.4" stroke="#000" stroke-width="3" stroke-linecap="round"/>
<line x1="1439.9" y1="607.2" x2="1439.9" y2="652.7" stroke="#000" stroke-width="3" stroke-linecap="butt"/>
<line x1="1431.6" y1="652.7" x2="1448.2" y2="652.7" stroke="#000" stroke-width="3" stroke-linecap="round"/>
<rect x="1430" y="597.3" width="19.8" height="19.8" fill="#000"/>
<line x1="1470" y1="591.5" x2="1470" y2="624.3" stroke="#000" stroke-width="3" stroke-linecap="butt"/>
<line x1="1461.7" y1="591.5" x2="1478.3" y2="591.5" stroke="#000" stroke-width="3" stroke-linecap="round"/>
<line x1="1470" y1="624.3" x2="1470" y2="656.5" stroke="#000" stroke-width="3" stroke-linecap="butt"/>
<line x1="1461.7" y1="656.5" x2="1478.3" y2="656.5" stroke="#000" stroke-width="3" stroke-linecap="round"/>
<polygon points="1461.9,631.9 1478.1,631.9 1470,616.4" fill="#000" stroke="#000" stroke-width="3.6" stroke-linejoin="round"/>
<circle cx="1583.7" cy="536.3" r="9.95" fill="#000"/>
<rect x="1574.1" y="582.7" width="19.8" height="19.8" fill="#000"/>
<polygon points="1575.9,656.8 1592.1,656.8 1584,641.3" fill="#000" stroke="#000" stroke-width="3.6" stroke-linejoin="round"/>
<text x="1630.36" y="547.8" style="font-family:'Liberation Sans',Arial,sans-serif;font-variant-ligatures:none;font-size:29.3px;font-weight:normal" fill="#000" text-anchor="start" textLength="79.67" lengthAdjust="spacingAndGlyphs">BAPN</text>
<text x="1630.37" y="603.4" style="font-family:'Liberation Sans',Arial,sans-serif;font-variant-ligatures:none;font-size:29.3px;font-weight:normal" fill="#000" text-anchor="start" textLength="103.66" lengthAdjust="spacingAndGlyphs">No drug</text>
<text x="1630.75" y="659.6" style="font-family:'Liberation Sans',Arial,sans-serif;font-variant-ligatures:none;font-size:29.3px;font-weight:normal" fill="#000" text-anchor="start" textLength="100.15" lengthAdjust="spacingAndGlyphs">Genipin</text>
<rect x="157.7" y="1155.11" width="17.6" height="303.19" fill="#f09a9a"/>
<rect x="186.28" y="1379.09" width="17.6" height="79.21" fill="#f09a9a"/>
<rect x="214.86" y="1312.37" width="17.6" height="145.93" fill="#8688c6"/>
<rect x="214.86" y="1447.37" width="17.6" height="10.93" fill="#f09a9a"/>
<rect x="243.44" y="1300.66" width="17.6" height="157.64" fill="#8688c6"/>
<rect x="272.02" y="1406.01" width="17.6" height="52.29" fill="#a7d491"/>
<rect x="272.02" y="1429.43" width="17.6" height="28.87" fill="#8688c6"/>
<rect x="300.6" y="1414.21" width="17.6" height="44.09" fill="#a7d491"/>
<rect x="329.18" y="1411.09" width="17.6" height="47.21" fill="#a7d491"/>
<rect x="329.18" y="1454.79" width="17.6" height="3.51" fill="#8688c6"/>
<rect x="357.76" y="1425.91" width="17.6" height="32.39" fill="#a7d491"/>
<rect x="386.34" y="1431.38" width="17.6" height="26.92" fill="#a7d491"/>
<rect x="414.92" y="1436.45" width="17.6" height="21.85" fill="#a7d491"/>
<rect x="443.5" y="1442.3" width="17.6" height="16" fill="#a7d491"/>
<rect x="472.08" y="1445.81" width="17.6" height="12.49" fill="#a7d491"/>
<rect x="500.66" y="1452.06" width="17.6" height="6.24" fill="#a7d491"/>
<rect x="529.24" y="1453.23" width="17.6" height="5.07" fill="#a7d491"/>
<rect x="557.82" y="1452.84" width="17.6" height="5.46" fill="#a7d491"/>
<rect x="586.4" y="1455.57" width="17.6" height="2.73" fill="#8688c6"/>
<rect x="586.4" y="1456.35" width="17.6" height="1.95" fill="#a7d491"/>
<rect x="614.98" y="1453.81" width="17.6" height="4.49" fill="#a7d491"/>
<rect x="643.56" y="1454.59" width="17.6" height="3.71" fill="#a7d491"/>
<rect x="672.14" y="1452.84" width="17.6" height="5.46" fill="#a7d491"/>
<rect x="700.72" y="1454.59" width="17.6" height="3.71" fill="#a7d491"/>
<rect x="729.3" y="1454.98" width="12.7" height="3.32" fill="#a7d491"/>
<line x1="152.6" y1="1066.4" x2="152.6" y2="1460.1" stroke="#000" stroke-width="2.6" stroke-linecap="round"/>
<line x1="141.9" y1="1458.3" x2="738.2" y2="1458.3" stroke="#000" stroke-width="2.6" stroke-linecap="round"/>
<line x1="141.8" y1="1380.26" x2="152.6" y2="1380.26" stroke="#000" stroke-width="2.6" stroke-linecap="round"/>
<line x1="141.8" y1="1302.22" x2="152.6" y2="1302.22" stroke="#000" stroke-width="2.6" stroke-linecap="round"/>
<line x1="141.8" y1="1224.18" x2="152.6" y2="1224.18" stroke="#000" stroke-width="2.6" stroke-linecap="round"/>
<line x1="141.8" y1="1146.14" x2="152.6" y2="1146.14" stroke="#000" stroke-width="2.6" stroke-linecap="round"/>
<line x1="141.8" y1="1068.1" x2="152.6" y2="1068.1" stroke="#000" stroke-width="2.6" stroke-linecap="round"/>
<line x1="166.5" y1="1458.3" x2="166.5" y2="1468.8" stroke="#000" stroke-width="2.6" stroke-linecap="round"/>
<line x1="309.4" y1="1458.3" x2="309.4" y2="1468.8" stroke="#000" stroke-width="2.6" stroke-linecap="round"/>
<line x1="452.3" y1="1458.3" x2="452.3" y2="1468.8" stroke="#000" stroke-width="2.6" stroke-linecap="round"/>
<line x1="595.2" y1="1458.3" x2="595.2" y2="1468.8" stroke="#000" stroke-width="2.6" stroke-linecap="round"/>
<line x1="738.1" y1="1458.3" x2="738.1" y2="1468.8" stroke="#000" stroke-width="2.6" stroke-linecap="round"/>
<path d="M166.5 1442.57 L167.21 1442.4 L167.93 1442.22 L168.64 1442.05 L169.36 1441.87 L170.07 1441.69 L170.79 1441.51 L171.5 1441.33 L172.22 1441.15 L172.93 1440.97 L173.65 1440.78 L174.36 1440.6 L175.07 1440.42 L175.79 1440.23 L176.5 1440.04 L177.22 1439.86 L177.93 1439.67 L178.65 1439.48 L179.36 1439.29 L180.08 1439.1 L180.79 1438.9 L181.5 1438.71 L182.22 1438.52 L182.93 1438.32 L183.65 1438.13 L184.36 1437.93 L185.08 1437.74 L185.79 1437.54 L186.51 1437.34 L187.22 1437.14 L187.94 1436.94 L188.65 1436.74 L189.36 1436.54 L190.08 1436.34 L190.79 1436.14 L191.51 1435.93 L192.22 1435.73 L192.94 1435.53 L193.65 1435.32 L194.37 1435.12 L195.08 1434.91 L195.79 1434.71 L196.51 1434.5 L197.22 1434.29 L197.94 1434.09 L198.65 1433.88 L199.37 1433.67 L200.08 1433.46 L200.8 1433.25 L201.51 1433.04 L202.22 1432.83 L202.94 1432.63 L203.65 1432.42 L204.37 1432.2 L205.08 1431.99 L205.8 1431.78 L206.51 1431.57 L207.23 1431.36 L207.94 1431.15 L208.66 1430.94 L209.37 1430.73 L210.08 1430.52 L210.8 1430.31 L211.51 1430.09 L212.23 1429.88 L212.94 1429.67 L213.66 1429.46 L214.37 1429.25 L215.09 1429.04 L215.8 1428.83 L216.51 1428.62 L217.23 1428.4 L217.94 1428.19 L218.66 1427.98 L219.37 1427.77 L220.09 1427.56 L220.8 1427.35 L221.52 1427.15 L222.23 1426.94 L222.95 1426.73 L223.66 1426.52 L224.37 1426.31 L225.09 1426.11 L225.8 1425.9 L226.52 1425.69 L227.23 1425.49 L227.95 1425.28 L228.66 1425.08 L229.38 1424.87 L230.09 1424.67 L230.81 1424.47 L231.52 1424.27 L232.23 1424.07 L232.95 1423.87 L233.66 1423.67 L234.38 1423.47 L235.09 1423.27 L235.81 1423.07 L236.52 1422.88 L237.24 1422.68 L237.95 1422.49 L238.66 1422.29 L239.38 1422.1 L240.09 1421.91 L240.81 1421.72 L241.52 1421.53 L242.24 1421.34 L242.95 1421.16 L243.67 1420.97 L244.38 1420.79 L245.09 1420.6 L245.81 1420.42 L246.52 1420.24 L247.24 1420.06 L247.95 1419.88 L248.67 1419.7 L249.38 1419.53 L250.1 1419.36 L250.81 1419.18 L251.53 1419.01 L252.24 1418.84 L252.95 1418.67 L253.67 1418.51 L254.38 1418.34 L255.1 1418.18 L255.81 1418.02 L256.53 1417.86 L257.24 1417.7 L257.96 1417.54 L258.67 1417.38 L259.38 1417.23 L260.1 1417.08 L260.81 1416.93 L261.53 1416.78 L262.24 1416.63 L262.96 1416.49 L263.67 1416.35 L264.39 1416.21 L265.1 1416.07 L265.82 1415.93 L266.53 1415.79 L267.24 1415.66 L267.96 1415.53 L268.67 1415.4 L269.39 1415.27 L270.1 1415.15 L270.82 1415.03 L271.53 1414.9 L272.25 1414.79 L272.96 1414.67 L273.68 1414.55 L274.39 1414.44 L275.1 1414.33 L275.82 1414.22 L276.53 1414.12 L277.25 1414.01 L277.96 1413.91 L278.68 1413.81 L279.39 1413.72 L280.11 1413.62 L280.82 1413.53 L281.53 1413.44 L282.25 1413.35 L282.96 1413.27 L283.68 1413.19 L284.39 1413.11 L285.11 1413.03 L285.82 1412.95 L286.54 1412.88 L287.25 1412.81 L287.97 1412.74 L288.68 1412.68 L289.39 1412.61 L290.11 1412.55 L290.82 1412.5 L291.54 1412.44 L292.25 1412.39 L292.97 1412.34 L293.68 1412.29 L294.4 1412.24 L295.11 1412.2 L295.82 1412.16 L296.54 1412.12 L297.25 1412.09 L297.97 1412.05 L298.68 1412.02 L299.4 1412 L300.11 1411.97 L300.83 1411.95 L301.54 1411.93 L302.25 1411.91 L302.97 1411.9 L303.68 1411.89 L304.4 1411.88 L305.11 1411.87 L305.83 1411.87 L306.54 1411.87 L307.26 1411.87 L307.97 1411.87 L308.69 1411.88 L309.4 1411.89 L310.11 1411.9 L310.83 1411.91 L311.54 1411.93 L312.26 1411.95 L312.97 1411.97 L313.69 1412 L314.4 1412.02 L315.12 1412.05 L315.83 1412.09 L316.55 1412.12 L317.26 1412.16 L317.97 1412.2 L318.69 1412.24 L319.4 1412.29 L320.12 1412.34 L320.83 1412.39 L321.55 1412.44 L322.26 1412.5 L322.98 1412.55 L323.69 1412.61 L324.4 1412.68 L325.12 1412.74 L325.83 1412.81 L326.55 1412.88 L327.26 1412.95 L327.98 1413.03 L328.69 1413.11 L329.41 1413.19 L330.12 1413.27 L330.84 1413.35 L331.55 1413.44 L332.26 1413.53 L332.98 1413.62 L333.69 1413.72 L334.41 1413.81 L335.12 1413.91 L335.84 1414.01 L336.55 1414.12 L337.27 1414.22 L337.98 1414.33 L338.69 1414.44 L339.41 1414.55 L340.12 1414.67 L340.84 1414.79 L341.55 1414.9 L342.27 1415.03 L342.98 1415.15 L343.7 1415.27 L344.41 1415.4 L345.12 1415.53 L345.84 1415.66 L346.55 1415.79 L347.27 1415.93 L347.98 1416.07 L348.7 1416.21 L349.41 1416.35 L350.13 1416.49 L350.84 1416.63 L351.56 1416.78 L352.27 1416.93 L352.98 1417.08 L353.7 1417.23 L354.41 1417.38 L355.13 1417.54 L355.84 1417.7 L356.56 1417.86 L357.27 1418.02 L357.99 1418.18 L358.7 1418.34 L359.42 1418.51 L360.13 1418.67 L360.84 1418.84 L361.56 1419.01 L362.27 1419.18 L362.99 1419.36 L363.7 1419.53 L364.42 1419.7 L365.13 1419.88 L365.85 1420.06 L366.56 1420.24 L367.27 1420.42 L367.99 1420.6 L368.7 1420.79 L369.42 1420.97 L370.13 1421.16 L370.85 1421.34 L371.56 1421.53 L372.28 1421.72 L372.99 1421.91 L373.71 1422.1 L374.42 1422.29 L375.13 1422.49 L375.85 1422.68 L376.56 1422.88 L377.28 1423.07 L377.99 1423.27 L378.71 1423.47 L379.42 1423.67 L380.14 1423.87 L380.85 1424.07 L381.56 1424.27 L382.28 1424.47 L382.99 1424.67 L383.71 1424.87 L384.42 1425.08 L385.14 1425.28 L385.85 1425.49 L386.57 1425.69 L387.28 1425.9 L388 1426.11 L388.71 1426.31 L389.42 1426.52 L390.14 1426.73 L390.85 1426.94 L391.57 1427.15 L392.28 1427.35 L393 1427.56 L393.71 1427.77 L394.43 1427.98 L395.14 1428.19 L395.85 1428.4 L396.57 1428.62 L397.28 1428.83 L398 1429.04 L398.71 1429.25 L399.43 1429.46 L400.14 1429.67 L400.86 1429.88 L401.57 1430.09 L402.28 1430.31 L403 1430.52 L403.71 1430.73 L404.43 1430.94 L405.14 1431.15 L405.86 1431.36 L406.57 1431.57 L407.29 1431.78 L408 1431.99 L408.72 1432.2 L409.43 1432.42 L410.14 1432.63 L410.86 1432.83 L411.57 1433.04 L412.29 1433.25 L413 1433.46 L413.72 1433.67 L414.43 1433.88 L415.15 1434.09 L415.86 1434.29 L416.58 1434.5 L417.29 1434.71 L418 1434.91 L418.72 1435.12 L419.43 1435.32 L420.15 1435.53 L420.86 1435.73 L421.58 1435.93 L422.29 1436.14 L423.01 1436.34 L423.72 1436.54 L424.43 1436.74 L425.15 1436.94 L425.86 1437.14 L426.58 1437.34 L427.29 1437.54 L428.01 1437.74 L428.72 1437.93 L429.44 1438.13 L430.15 1438.32 L430.87 1438.52 L431.58 1438.71 L432.29 1438.9 L433.01 1439.1 L433.72 1439.29 L434.44 1439.48 L435.15 1439.67 L435.87 1439.86 L436.58 1440.04 L437.3 1440.23 L438.01 1440.42 L438.72 1440.6 L439.44 1440.78 L440.15 1440.97 L440.87 1441.15 L441.58 1441.33 L442.3 1441.51 L443.01 1441.69 L443.73 1441.87 L444.44 1442.05 L445.16 1442.22 L445.87 1442.4 L446.58 1442.57 L447.3 1442.75 L448.01 1442.92 L448.73 1443.09 L449.44 1443.26 L450.16 1443.43 L450.87 1443.6 L451.59 1443.76 L452.3 1443.93 L453.01 1444.09 L453.73 1444.26 L454.44 1444.42 L455.16 1444.58 L455.87 1444.74 L456.59 1444.9 L457.3 1445.06 L458.02 1445.22 L458.73 1445.37 L459.44 1445.53 L460.16 1445.68 L460.87 1445.83 L461.59 1445.98 L462.3 1446.13 L463.02 1446.28 L463.73 1446.43 L464.45 1446.58 L465.16 1446.72 L465.88 1446.87 L466.59 1447.01 L467.3 1447.15 L468.02 1447.29 L468.73 1447.43 L469.45 1447.57 L470.16 1447.71 L470.88 1447.84 L471.59 1447.98 L472.31 1448.11 L473.02 1448.24 L473.74 1448.38 L474.45 1448.51 L475.16 1448.64 L475.88 1448.76 L476.59 1448.89 L477.31 1449.02 L478.02 1449.14 L478.74 1449.26 L479.45 1449.39 L480.17 1449.51 L480.88 1449.63 L481.59 1449.75 L482.31 1449.86 L483.02 1449.98 L483.74 1450.09 L484.45 1450.21 L485.17 1450.32 L485.88 1450.43 L486.6 1450.54 L487.31 1450.65 L488.03 1450.76 L488.74 1450.87 L489.45 1450.98 L490.17 1451.08 L490.88 1451.19 L491.6 1451.29 L492.31 1451.39 L493.03 1451.49 L493.74 1451.59 L494.46 1451.69 L495.17 1451.79 L495.88 1451.88 L496.6 1451.98 L497.31 1452.07 L498.03 1452.17 L498.74 1452.26 L499.46 1452.35 L500.17 1452.44 L500.89 1452.53 L501.6 1452.62 L502.31 1452.7 L503.03 1452.79 L503.74 1452.87 L504.46 1452.96 L505.17 1453.04 L505.89 1453.12 L506.6 1453.2 L507.32 1453.28 L508.03 1453.36 L508.75 1453.44 L509.46 1453.52 L510.17 1453.59 L510.89 1453.67 L511.6 1453.74 L512.32 1453.82 L513.03 1453.89 L513.75 1453.96 L514.46 1454.03 L515.18 1454.1 L515.89 1454.17 L516.61 1454.24 L517.32 1454.3 L518.03 1454.37 L518.75 1454.43 L519.46 1454.5 L520.18 1454.56 L520.89 1454.62 L521.61 1454.69 L522.32 1454.75 L523.04 1454.81 L523.75 1454.87 L524.46 1454.92 L525.18 1454.98 L525.89 1455.04 L526.61 1455.1 L527.32 1455.15 L528.04 1455.2 L528.75 1455.26 L529.47 1455.31 L530.18 1455.36 L530.89 1455.42 L531.61 1455.47 L532.32 1455.52 L533.04 1455.57 L533.75 1455.61 L534.47 1455.66 L535.18 1455.71 L535.9 1455.75 L536.61 1455.8 L537.33 1455.85 L538.04 1455.89 L538.75 1455.93 L539.47 1455.98 L540.18 1456.02 L540.9 1456.06 L541.61 1456.1 L542.33 1456.14 L543.04 1456.18 L543.76 1456.22 L544.47 1456.26 L545.18 1456.3 L545.9 1456.34 L546.61 1456.37 L547.33 1456.41 L548.04 1456.44 L548.76 1456.48 L549.47 1456.51 L550.19 1456.55 L550.9 1456.58 L551.62 1456.61 L552.33 1456.65 L553.04 1456.68 L553.76 1456.71 L554.47 1456.74 L555.19 1456.77 L555.9 1456.8 L556.62 1456.83 L557.33 1456.86 L558.05 1456.89 L558.76 1456.91 L559.48 1456.94 L560.19 1456.97 L560.9 1456.99 L561.62 1457.02 L562.33 1457.05 L563.05 1457.07 L563.76 1457.1 L564.48 1457.12 L565.19 1457.14 L565.91 1457.17 L566.62 1457.19 L567.33 1457.2 L568.05 1457.2 L568.76 1457.2 L569.48 1457.2 L570.19 1457.2 L570.91 1457.2 L571.62 1457.2 L572.34 1457.2 L573.05 1457.2 L573.76 1457.2 L574.48 1457.2 L575.19 1457.2 L575.91 1457.2 L576.62 1457.2 L577.34 1457.2 L578.05 1457.2 L578.77 1457.2 L579.48 1457.2 L580.2 1457.2 L580.91 1457.2 L581.62 1457.2 L582.34 1457.2 L583.05 1457.2 L583.77 1457.2 L584.48 1457.2 L585.2 1457.2 L585.91 1457.2 L586.63 1457.2 L587.34 1457.2 L588.06 1457.2 L588.77 1457.2 L589.48 1457.2 L590.2 1457.2 L590.91 1457.2 L591.63 1457.2 L592.34 1457.2 L593.06 1457.2 L593.77 1457.2 L594.49 1457.2 L595.2 1457.2 L595.91 1457.2 L596.63 1457.2 L597.34 1457.2 L598.06 1457.2 L598.77 1457.2 L599.49 1457.2 L600.2 1457.2 L600.92 1457.2 L601.63 1457.2 L602.35 1457.2 L603.06 1457.2 L603.77 1457.2 L604.49 1457.2 L605.2 1457.2 L605.92 1457.2 L606.63 1457.2 L607.35 1457.2 L608.06 1457.2 L608.78 1457.2 L609.49 1457.2 L610.2 1457.2 L610.92 1457.2 L611.63 1457.2 L612.35 1457.2 L613.06 1457.2 L613.78 1457.2 L614.49 1457.2 L615.21 1457.2 L615.92 1457.2 L616.63 1457.2 L617.35 1457.2 L618.06 1457.2 L618.78 1457.2 L619.49 1457.2 L620.21 1457.2 L620.92 1457.2 L621.64 1457.2 L622.35 1457.2 L623.07 1457.2 L623.78 1457.2 L624.49 1457.2 L625.21 1457.2 L625.92 1457.2 L626.64 1457.2 L627.35 1457.2 L628.07 1457.2 L628.78 1457.2 L629.5 1457.2 L630.21 1457.2 L630.92 1457.2 L631.64 1457.2 L632.35 1457.2 L633.07 1457.2 L633.78 1457.2 L634.5 1457.2 L635.21 1457.2 L635.93 1457.2 L636.64 1457.2 L637.36 1457.2 L638.07 1457.2 L638.78 1457.2 L639.5 1457.2 L640.21 1457.2 L640.93 1457.2 L641.64 1457.2 L642.36 1457.2 L643.07 1457.2 L643.79 1457.2 L644.5 1457.2 L645.22 1457.2 L645.93 1457.2 L646.64 1457.2 L647.36 1457.2 L648.07 1457.2 L648.79 1457.2 L649.5 1457.2 L650.22 1457.2 L650.93 1457.2 L651.65 1457.2 L652.36 1457.2 L653.07 1457.2 L653.79 1457.2 L654.5 1457.2 L655.22 1457.2 L655.93 1457.2 L656.65 1457.2 L657.36 1457.2 L658.08 1457.2 L658.79 1457.2 L659.5 1457.2 L660.22 1457.2 L660.93 1457.2 L661.65 1457.2 L662.36 1457.2 L663.08 1457.2 L663.79 1457.2 L664.51 1457.2 L665.22 1457.2 L665.94 1457.2 L666.65 1457.2 L667.36 1457.2 L668.08 1457.2 L668.79 1457.2 L669.51 1457.2 L670.22 1457.2 L670.94 1457.2 L671.65 1457.2 L672.37 1457.2 L673.08 1457.2 L673.8 1457.2 L674.51 1457.2 L675.22 1457.2 L675.94 1457.2 L676.65 1457.2 L677.37 1457.2 L678.08 1457.2 L678.8 1457.2 L679.51 1457.2 L680.23 1457.2 L680.94 1457.2 L681.65 1457.2 L682.37 1457.2 L683.08 1457.2 L683.8 1457.2 L684.51 1457.2 L685.23 1457.2 L685.94 1457.2 L686.66 1457.2 L687.37 1457.2 L688.09 1457.2 L688.8 1457.2 L689.51 1457.2 L690.23 1457.2 L690.94 1457.2 L691.66 1457.2 L692.37 1457.2 L693.09 1457.2 L693.8 1457.2 L694.52 1457.2 L695.23 1457.2 L695.94 1457.2 L696.66 1457.2 L697.37 1457.2 L698.09 1457.2 L698.8 1457.2 L699.52 1457.2 L700.23 1457.2 L700.95 1457.2 L701.66 1457.2 L702.38 1457.2 L703.09 1457.2 L703.8 1457.2 L704.52 1457.2 L705.23 1457.2 L705.95 1457.2 L706.66 1457.2 L707.38 1457.2 L708.09 1457.2 L708.81 1457.2 L709.52 1457.2 L710.23 1457.2 L710.95 1457.2 L711.66 1457.2 L712.38 1457.2 L713.09 1457.2 L713.81 1457.2 L714.52 1457.2 L715.24 1457.2 L715.95 1457.2 L716.66 1457.2 L717.38 1457.2 L718.09 1457.2 L718.81 1457.2 L719.52 1457.2 L720.24 1457.2 L720.95 1457.2 L721.67 1457.2 L722.38 1457.2 L723.1 1457.2 L723.81 1457.2 L724.52 1457.2 L725.24 1457.2 L725.95 1457.2 L726.67 1457.2 L727.38 1457.2 L728.1 1457.2 L728.81 1457.2 L729.53 1457.2 L730.24 1457.2 L730.96 1457.2 L731.67 1457.2 L732.38 1457.2 L733.1 1457.2 L733.81 1457.2 L734.53 1457.2 L735.24 1457.2 L735.96 1457.2 L736.67 1457.2 L737.39 1457.2 L738.1 1457.2" stroke="#127a2c" stroke-width="2.4" fill="none" stroke-linecap="round" stroke-linejoin="round"/>
<path d="M166.5 1456.2 L167.21 1456.39 L167.93 1456.21 L168.64 1456.02 L169.36 1455.81 L170.07 1455.58 L170.78 1455.34 L171.5 1455.08 L172.21 1454.8 L172.92 1454.5 L173.64 1454.17 L174.35 1453.82 L175.06 1453.45 L175.78 1453.05 L176.49 1452.62 L177.2 1452.16 L177.92 1451.67 L178.63 1451.15 L179.35 1450.59 L180.06 1450 L180.77 1449.37 L181.49 1448.7 L182.2 1447.99 L182.91 1447.23 L183.63 1446.43 L184.34 1445.59 L185.05 1444.7 L185.77 1443.75 L186.48 1442.76 L187.2 1441.71 L187.91 1440.61 L188.62 1439.45 L189.34 1438.23 L190.05 1436.95 L190.76 1435.61 L191.48 1434.21 L192.19 1432.75 L192.9 1431.22 L193.62 1429.62 L194.33 1427.96 L195.05 1426.22 L195.76 1424.42 L196.47 1422.55 L197.19 1420.61 L197.9 1418.6 L198.61 1416.52 L199.33 1414.37 L200.04 1412.15 L200.75 1409.86 L201.47 1407.5 L202.18 1405.07 L202.89 1402.57 L203.61 1400.01 L204.32 1397.39 L205.04 1394.71 L205.75 1391.96 L206.46 1389.16 L207.18 1386.3 L207.89 1383.39 L208.6 1380.44 L209.32 1377.43 L210.03 1374.39 L210.74 1371.31 L211.46 1368.19 L212.17 1365.05 L212.89 1361.88 L213.6 1358.69 L214.31 1355.49 L215.03 1352.28 L215.74 1349.06 L216.45 1345.85 L217.17 1342.64 L217.88 1339.45 L218.59 1336.28 L219.31 1333.13 L220.02 1330.02 L220.74 1326.94 L221.45 1323.91 L222.16 1320.93 L222.88 1318.01 L223.59 1315.16 L224.3 1312.37 L225.02 1309.66 L225.73 1307.04 L226.44 1304.51 L227.16 1302.07 L227.87 1299.73 L228.58 1297.5 L229.3 1295.38 L230.01 1293.38 L230.73 1291.51 L231.44 1289.76 L232.15 1288.14 L232.87 1286.66 L233.58 1285.32 L234.29 1284.13 L235.01 1283.08 L235.72 1282.18 L236.43 1281.43 L237.15 1280.83 L237.86 1280.39 L238.58 1280.11 L239.29 1279.99 L240 1280.02 L240.72 1280.21 L241.43 1280.55 L242.14 1281.06 L242.86 1281.71 L243.57 1282.52 L244.28 1283.49 L245 1284.6 L245.71 1285.85 L246.42 1287.25 L247.14 1288.79 L247.85 1290.46 L248.57 1292.26 L249.28 1294.18 L249.99 1296.23 L250.71 1298.4 L251.42 1300.67 L252.13 1303.05 L252.85 1305.53 L253.56 1308.1 L254.27 1310.76 L254.99 1313.5 L255.7 1316.31 L256.42 1319.2 L257.13 1322.14 L257.84 1325.14 L258.56 1328.19 L259.27 1331.28 L259.98 1334.41 L260.7 1337.57 L261.41 1340.75 L262.12 1343.95 L262.84 1347.16 L263.55 1350.37 L264.27 1353.59 L264.98 1356.8 L265.69 1360 L266.41 1363.18 L267.12 1366.34 L267.83 1369.47 L268.55 1372.57 L269.26 1375.64 L269.97 1378.66 L270.69 1381.65 L271.4 1384.59 L272.11 1387.47 L272.83 1390.31 L273.54 1393.09 L274.26 1395.81 L274.97 1398.47 L275.68 1401.07 L276.4 1403.6 L277.11 1406.07 L277.82 1408.47 L278.54 1410.8 L279.25 1413.06 L279.96 1415.25 L280.68 1417.38 L281.39 1419.43 L282.11 1421.41 L282.82 1423.32 L283.53 1425.17 L284.25 1426.94 L284.96 1428.64 L285.67 1430.28 L286.39 1431.85 L287.1 1433.35 L287.81 1434.79 L288.53 1436.17 L289.24 1437.48 L289.95 1438.73 L290.67 1439.93 L291.38 1441.06 L292.1 1442.14 L292.81 1443.17 L293.52 1444.14 L294.24 1445.07 L294.95 1445.94 L295.66 1446.76 L296.38 1447.54 L297.09 1448.28 L297.8 1448.97 L298.52 1449.63 L299.23 1450.24 L299.95 1450.82 L300.66 1451.36 L301.37 1451.87 L302.09 1452.35 L302.8 1452.8 L303.51 1453.21 L304.23 1453.6 L304.94 1453.97 L305.65 1454.31 L306.37 1454.62 L307.08 1454.92 L307.8 1455.19 L308.51 1455.44 L309.22 1455.68 L309.94 1455.9 L310.65 1456.1 L311.36 1456.28 L312.08 1456.46 L312.79 1456.62 L313.5 1456.76 L314.22 1456.9 L314.93 1457.02 L315.64 1457.14 L316.36 1457.2 L317.07 1457.2 L317.79 1457.2 L318.5 1457.2 L319.21 1457.2 L319.93 1457.2 L320.64 1457.2 L321.35 1457.2 L322.07 1457.2 L322.78 1457.2 L323.49 1457.2 L324.21 1457.2 L324.92 1457.2 L325.64 1457.2 L326.35 1457.2 L327.06 1457.2 L327.78 1457.2 L328.49 1457.2 L329.2 1457.2 L329.92 1457.2 L330.63 1457.2 L331.34 1457.2 L332.06 1457.2 L332.77 1457.2 L333.48 1457.2 L334.2 1457.2 L334.91 1457.2 L335.63 1457.2 L336.34 1457.2 L337.05 1457.2 L337.77 1457.2 L338.48 1457.2 L339.19 1457.2 L339.91 1457.2 L340.62 1457.2 L341.33 1457.2 L342.05 1457.2 L342.76 1457.2 L343.48 1457.2 L344.19 1457.2 L344.9 1457.2 L345.62 1457.2 L346.33 1457.2 L347.04 1457.2 L347.76 1457.2 L348.47 1457.2 L349.18 1457.2 L349.9 1457.2 L350.61 1457.2 L351.33 1457.2 L352.04 1457.2 L352.75 1457.2 L353.47 1457.2 L354.18 1457.2 L354.89 1457.2 L355.61 1457.2 L356.32 1457.2 L357.03 1457.2 L357.75 1457.2 L358.46 1457.2 L359.17 1457.2 L359.89 1457.2 L360.6 1457.2 L361.32 1457.2 L362.03 1457.2 L362.74 1457.2 L363.46 1457.2 L364.17 1457.2 L364.88 1457.2 L365.6 1457.2 L366.31 1457.2 L367.02 1457.2 L367.74 1457.2 L368.45 1457.2 L369.17 1457.2 L369.88 1457.2 L370.59 1457.2 L371.31 1457.2 L372.02 1457.2 L372.73 1457.2 L373.45 1457.2 L374.16 1457.2 L374.87 1457.2 L375.59 1457.2 L376.3 1457.2 L377.01 1457.2 L377.73 1457.2 L378.44 1457.2 L379.16 1457.2 L379.87 1457.2 L380.58 1457.2 L381.3 1457.2 L382.01 1457.2 L382.72 1457.2 L383.44 1457.2 L384.15 1457.2 L384.86 1457.2 L385.58 1457.2 L386.29 1457.2 L387.01 1457.2 L387.72 1457.2 L388.43 1457.2 L389.15 1457.2 L389.86 1457.2 L390.57 1457.2 L391.29 1457.2 L392 1457.2 L392.71 1457.2 L393.43 1457.2 L394.14 1457.2 L394.86 1457.2 L395.57 1457.2 L396.28 1457.2 L397 1457.2 L397.71 1457.2 L398.42 1457.2 L399.14 1457.2 L399.85 1457.2 L400.56 1457.2 L401.28 1457.2 L401.99 1457.2 L402.7 1457.2 L403.42 1457.2 L404.13 1457.2 L404.85 1457.2 L405.56 1457.2 L406.27 1457.2 L406.99 1457.2 L407.7 1457.2 L408.41 1457.2 L409.13 1457.2 L409.84 1457.2 L410.55 1457.2 L411.27 1457.2 L411.98 1457.2 L412.7 1457.2 L413.41 1457.2 L414.12 1457.2 L414.84 1457.2 L415.55 1457.2 L416.26 1457.2 L416.98 1457.2 L417.69 1457.2 L418.4 1457.2 L419.12 1457.2 L419.83 1457.2 L420.54 1457.2 L421.26 1457.2 L421.97 1457.2 L422.69 1457.2 L423.4 1457.2 L424.11 1457.2 L424.83 1457.2 L425.54 1457.2 L426.25 1457.2 L426.97 1457.2 L427.68 1457.2 L428.39 1457.2 L429.11 1457.2 L429.82 1457.2 L430.54 1457.2 L431.25 1457.2 L431.96 1457.2 L432.68 1457.2 L433.39 1457.2 L434.1 1457.2 L434.82 1457.2 L435.53 1457.2 L436.24 1457.2 L436.96 1457.2 L437.67 1457.2 L438.39 1457.2 L439.1 1457.2 L439.81 1457.2 L440.53 1457.2 L441.24 1457.2 L441.95 1457.2 L442.67 1457.2 L443.38 1457.2 L444.09 1457.2 L444.81 1457.2 L445.52 1457.2 L446.23 1457.2 L446.95 1457.2 L447.66 1457.2 L448.38 1457.2 L449.09 1457.2 L449.8 1457.2 L450.52 1457.2 L451.23 1457.2 L451.94 1457.2 L452.66 1457.2 L453.37 1457.2 L454.08 1457.2 L454.8 1457.2 L455.51 1457.2 L456.23 1457.2 L456.94 1457.2 L457.65 1457.2 L458.37 1457.2 L459.08 1457.2 L459.79 1457.2 L460.51 1457.2 L461.22 1457.2 L461.93 1457.2 L462.65 1457.2 L463.36 1457.2 L464.07 1457.2 L464.79 1457.2 L465.5 1457.2 L466.22 1457.2 L466.93 1457.2 L467.64 1457.2 L468.36 1457.2 L469.07 1457.2 L469.78 1457.2 L470.5 1457.2 L471.21 1457.2 L471.92 1457.2 L472.64 1457.2 L473.35 1457.2 L474.07 1457.2 L474.78 1457.2 L475.49 1457.2 L476.21 1457.2 L476.92 1457.2 L477.63 1457.2 L478.35 1457.2 L479.06 1457.2 L479.77 1457.2 L480.49 1457.2 L481.2 1457.2 L481.92 1457.2 L482.63 1457.2 L483.34 1457.2 L484.06 1457.2 L484.77 1457.2 L485.48 1457.2 L486.2 1457.2 L486.91 1457.2 L487.62 1457.2 L488.34 1457.2 L489.05 1457.2 L489.76 1457.2 L490.48 1457.2 L491.19 1457.2 L491.91 1457.2 L492.62 1457.2 L493.33 1457.2 L494.05 1457.2 L494.76 1457.2 L495.47 1457.2 L496.19 1457.2 L496.9 1457.2 L497.61 1457.2 L498.33 1457.2 L499.04 1457.2 L499.76 1457.2 L500.47 1457.2 L501.18 1457.2 L501.9 1457.2 L502.61 1457.2 L503.32 1457.2 L504.04 1457.2 L504.75 1457.2 L505.46 1457.2 L506.18 1457.2 L506.89 1457.2 L507.6 1457.2 L508.32 1457.2 L509.03 1457.2 L509.75 1457.2 L510.46 1457.2 L511.17 1457.2 L511.89 1457.2 L512.6 1457.2 L513.31 1457.2 L514.03 1457.2 L514.74 1457.2 L515.45 1457.2 L516.17 1457.2 L516.88 1457.2 L517.6 1457.2 L518.31 1457.2 L519.02 1457.2 L519.74 1457.2 L520.45 1457.2 L521.16 1457.2 L521.88 1457.2 L522.59 1457.2 L523.3 1457.2 L524.02 1457.2 L524.73 1457.2 L525.45 1457.2 L526.16 1457.2 L526.87 1457.2 L527.59 1457.2 L528.3 1457.2 L529.01 1457.2 L529.73 1457.2 L530.44 1457.2 L531.15 1457.2 L531.87 1457.2 L532.58 1457.2 L533.29 1457.2 L534.01 1457.2 L534.72 1457.2 L535.44 1457.2 L536.15 1457.2 L536.86 1457.2 L537.58 1457.2 L538.29 1457.2 L539 1457.2 L539.72 1457.2 L540.43 1457.2 L541.14 1457.2 L541.86 1457.2 L542.57 1457.2 L543.29 1457.2 L544 1457.2 L544.71 1457.2 L545.43 1457.2 L546.14 1457.2 L546.85 1457.2 L547.57 1457.2 L548.28 1457.2 L548.99 1457.2 L549.71 1457.2 L550.42 1457.2 L551.13 1457.2 L551.85 1457.2 L552.56 1457.2 L553.28 1457.2 L553.99 1457.2 L554.7 1457.2 L555.42 1457.2 L556.13 1457.2 L556.84 1457.2 L557.56 1457.2 L558.27 1457.2 L558.98 1457.2 L559.7 1457.2 L560.41 1457.2 L561.13 1457.2 L561.84 1457.2 L562.55 1457.2 L563.27 1457.2 L563.98 1457.2 L564.69 1457.2 L565.41 1457.2 L566.12 1457.2 L566.83 1457.2 L567.55 1457.2 L568.26 1457.2 L568.98 1457.2 L569.69 1457.2 L570.4 1457.2 L571.12 1457.2 L571.83 1457.2 L572.54 1457.2 L573.26 1457.2 L573.97 1457.2 L574.68 1457.2 L575.4 1457.2 L576.11 1457.2 L576.82 1457.2 L577.54 1457.2 L578.25 1457.2 L578.97 1457.2 L579.68 1457.2 L580.39 1457.2 L581.11 1457.2 L581.82 1457.2 L582.53 1457.2 L583.25 1457.2 L583.96 1457.2 L584.67 1457.2 L585.39 1457.2 L586.1 1457.2 L586.82 1457.2 L587.53 1457.2 L588.24 1457.2 L588.96 1457.2 L589.67 1457.2 L590.38 1457.2 L591.1 1457.2 L591.81 1457.2 L592.52 1457.2 L593.24 1457.2 L593.95 1457.2 L594.67 1457.2 L595.38 1457.2 L596.09 1457.2 L596.81 1457.2 L597.52 1457.2 L598.23 1457.2 L598.95 1457.2 L599.66 1457.2 L600.37 1457.2 L601.09 1457.2 L601.8 1457.2 L602.51 1457.2 L603.23 1457.2 L603.94 1457.2 L604.66 1457.2 L605.37 1457.2 L606.08 1457.2 L606.8 1457.2 L607.51 1457.2 L608.22 1457.2 L608.94 1457.2 L609.65 1457.2 L610.36 1457.2 L611.08 1457.2 L611.79 1457.2 L612.51 1457.2 L613.22 1457.2 L613.93 1457.2 L614.65 1457.2 L615.36 1457.2 L616.07 1457.2 L616.79 1457.2 L617.5 1457.2 L618.21 1457.2 L618.93 1457.2 L619.64 1457.2 L620.35 1457.2 L621.07 1457.2 L621.78 1457.2 L622.5 1457.2 L623.21 1457.2 L623.92 1457.2 L624.64 1457.2 L625.35 1457.2 L626.06 1457.2 L626.78 1457.2 L627.49 1457.2 L628.2 1457.2 L628.92 1457.2 L629.63 1457.2 L630.35 1457.2 L631.06 1457.2 L631.77 1457.2 L632.49 1457.2 L633.2 1457.2 L633.91 1457.2 L634.63 1457.2 L635.34 1457.2 L636.05 1457.2 L636.77 1457.2 L637.48 1457.2 L638.2 1457.2 L638.91 1457.2 L639.62 1457.2 L640.34 1457.2 L641.05 1457.2 L641.76 1457.2 L642.48 1457.2 L643.19 1457.2 L643.9 1457.2 L644.62 1457.2 L645.33 1457.2 L646.04 1457.2 L646.76 1457.2 L647.47 1457.2 L648.19 1457.2 L648.9 1457.2 L649.61 1457.2 L650.33 1457.2 L651.04 1457.2 L651.75 1457.2 L652.47 1457.2 L653.18 1457.2 L653.89 1457.2 L654.61 1457.2 L655.32 1457.2 L656.04 1457.2 L656.75 1457.2 L657.46 1457.2 L658.18 1457.2 L658.89 1457.2 L659.6 1457.2 L660.32 1457.2 L661.03 1457.2 L661.74 1457.2 L662.46 1457.2 L663.17 1457.2 L663.88 1457.2 L664.6 1457.2 L665.31 1457.2 L666.03 1457.2 L666.74 1457.2 L667.45 1457.2 L668.17 1457.2 L668.88 1457.2 L669.59 1457.2 L670.31 1457.2 L671.02 1457.2 L671.73 1457.2 L672.45 1457.2 L673.16 1457.2 L673.88 1457.2 L674.59 1457.2 L675.3 1457.2 L676.02 1457.2 L676.73 1457.2 L677.44 1457.2 L678.16 1457.2 L678.87 1457.2 L679.58 1457.2 L680.3 1457.2 L681.01 1457.2 L681.73 1457.2 L682.44 1457.2 L683.15 1457.2 L683.87 1457.2 L684.58 1457.2 L685.29 1457.2 L686.01 1457.2 L686.72 1457.2 L687.43 1457.2 L688.15 1457.2 L688.86 1457.2 L689.57 1457.2 L690.29 1457.2 L691 1457.2 L691.72 1457.2 L692.43 1457.2 L693.14 1457.2 L693.86 1457.2 L694.57 1457.2 L695.28 1457.2 L696 1457.2 L696.71 1457.2 L697.42 1457.2 L698.14 1457.2 L698.85 1457.2 L699.57 1457.2 L700.28 1457.2 L700.99 1457.2 L701.71 1457.2 L702.42 1457.2 L703.13 1457.2 L703.85 1457.2 L704.56 1457.2 L705.27 1457.2 L705.99 1457.2 L706.7 1457.2 L707.41 1457.2 L708.13 1457.2 L708.84 1457.2 L709.56 1457.2 L710.27 1457.2 L710.98 1457.2 L711.7 1457.2 L712.41 1457.2 L713.12 1457.2 L713.84 1457.2 L714.55 1457.2 L715.26 1457.2 L715.98 1457.2 L716.69 1457.2 L717.41 1457.2 L718.12 1457.2 L718.83 1457.2 L719.55 1457.2 L720.26 1457.2 L720.97 1457.2 L721.69 1457.2 L722.4 1457.2 L723.11 1457.2 L723.83 1457.2 L724.54 1457.2 L725.26 1457.2 L725.97 1457.2 L726.68 1457.2 L727.4 1457.2 L728.11 1457.2 L728.82 1457.2 L729.54 1457.2 L730.25 1457.2 L730.96 1457.2 L731.68 1457.2 L732.39 1457.2 L733.1 1457.2 L733.82 1457.2 L734.53 1457.2 L735.25 1457.2 L735.96 1457.2 L736.67 1457.2 L737.39 1457.2 L738.1 1457.2" stroke="#0c178c" stroke-width="2.4" fill="none" stroke-linecap="round" stroke-linejoin="round"/>
<path d="M166.5 1156 C167.07 1161.63 168.67 1177.55 169.9 1189.8 C171.13 1202.05 172.57 1216.25 173.9 1229.5 C175.23 1242.75 176.42 1256.05 177.9 1269.3 C179.38 1282.55 180.98 1295.75 182.8 1309 C184.62 1322.25 186.8 1337.2 188.8 1348.8 C190.8 1360.4 192.82 1369.32 194.8 1378.6 C196.78 1387.88 198.38 1396.55 200.7 1404.5 C203.02 1412.45 205.72 1420.02 208.7 1426.3 C211.68 1432.58 214.97 1437.88 218.6 1442.2 C222.23 1446.52 226.18 1449.83 230.5 1452.2 C234.82 1454.57 239.58 1455.57 244.5 1456.4 C249.42 1457.23 254.08 1457.07 260 1457.2 C265.92 1457.33 276.67 1457.2 280 1457.2 L738 1457.2" stroke="#ee1111" stroke-width="2.4" fill="none" stroke-linecap="round" stroke-linejoin="round"/>
<text x="87.2" y="1077.95" style="font-family:'Liberation Sans',Arial,sans-serif;font-variant-ligatures:none;font-size:25px;font-weight:bold" fill="#000" text-anchor="start">1</text>
<text x="103.35" y="1077.95" style="font-family:'Liberation Sans',Arial,sans-serif;font-variant-ligatures:none;font-size:25px;font-weight:bold" fill="#000" text-anchor="start">00</text>
<text x="102.85" y="1155.35" style="font-family:'Liberation Sans',Arial,sans-serif;font-variant-ligatures:none;font-size:25px;font-weight:bold" fill="#000" text-anchor="start">8</text>
<text x="119.93" y="1155.35" style="font-family:'Liberation Sans',Arial,sans-serif;font-variant-ligatures:none;font-size:25px;font-weight:bold" fill="#000" text-anchor="start">0</text>
<text x="102.62" y="1233.55" style="font-family:'Liberation Sans',Arial,sans-serif;font-variant-ligatures:none;font-size:25px;font-weight:bold" fill="#000" text-anchor="start">6</text>
<text x="120.22" y="1233.55" style="font-family:'Liberation Sans',Arial,sans-serif;font-variant-ligatures:none;font-size:25px;font-weight:bold" fill="#000" text-anchor="start">0</text>
<text x="102.72" y="1311.65" style="font-family:'Liberation Sans',Arial,sans-serif;font-variant-ligatures:none;font-size:25px;font-weight:bold" fill="#000" text-anchor="start">4</text>
<text x="120.22" y="1311.65" style="font-family:'Liberation Sans',Arial,sans-serif;font-variant-ligatures:none;font-size:25px;font-weight:bold" fill="#000" text-anchor="start">0</text>
<text x="102.22" y="1390.35" style="font-family:'Liberation Sans',Arial,sans-serif;font-variant-ligatures:none;font-size:25px;font-weight:bold" fill="#000" text-anchor="start">2</text>
<text x="120.03" y="1390.35" style="font-family:'Liberation Sans',Arial,sans-serif;font-variant-ligatures:none;font-size:25px;font-weight:bold" fill="#000" text-anchor="start">0</text>
<text x="118.28" y="1467.95" style="font-family:'Liberation Sans',Arial,sans-serif;font-variant-ligatures:none;font-size:25px;font-weight:bold" fill="#000" text-anchor="start" textLength="15.57" lengthAdjust="spacingAndGlyphs">0</text>
<text x="158.84" y="1502.05" style="font-family:'Liberation Sans',Arial,sans-serif;font-variant-ligatures:none;font-size:25px;font-weight:bold" fill="#000" text-anchor="start" textLength="13.35" lengthAdjust="spacingAndGlyphs">0</text>
<text x="283.6" y="1502.05" style="font-family:'Liberation Sans',Arial,sans-serif;font-variant-ligatures:none;font-size:25px;font-weight:bold" fill="#000" text-anchor="start">1</text>
<text x="300.65" y="1502.05" style="font-family:'Liberation Sans',Arial,sans-serif;font-variant-ligatures:none;font-size:25px;font-weight:bold" fill="#000" text-anchor="start">00</text>
<text x="426.12" y="1502.05" style="font-family:'Liberation Sans',Arial,sans-serif;font-variant-ligatures:none;font-size:25px;font-weight:bold" fill="#000" text-anchor="start">2</text>
<text x="443.45" y="1502.05" style="font-family:'Liberation Sans',Arial,sans-serif;font-variant-ligatures:none;font-size:25px;font-weight:bold" fill="#000" text-anchor="start">00</text>
<text x="569.77" y="1502.05" style="font-family:'Liberation Sans',Arial,sans-serif;font-variant-ligatures:none;font-size:25px;font-weight:bold" fill="#000" text-anchor="start">3</text>
<text x="585.95" y="1502.05" style="font-family:'Liberation Sans',Arial,sans-serif;font-variant-ligatures:none;font-size:25px;font-weight:bold" fill="#000" text-anchor="start">00</text>
<text x="712.52" y="1502.05" style="font-family:'Liberation Sans',Arial,sans-serif;font-variant-ligatures:none;font-size:25px;font-weight:bold" fill="#000" text-anchor="start">4</text>
<text x="728.75" y="1502.05" style="font-family:'Liberation Sans',Arial,sans-serif;font-variant-ligatures:none;font-size:25px;font-weight:bold" fill="#000" text-anchor="start">00</text>
<text x="315.51" y="1545.8" style="font-family:'Liberation Sans',Arial,sans-serif;font-variant-ligatures:none;font-size:25px;font-weight:bold" fill="#000" text-anchor="start" textLength="252.42" lengthAdjust="spacingAndGlyphs">Elastic Modulus (kPa)</text>
<text transform="translate(63.7 1359.89) rotate(-90)" x="0" y="0" style="font-family:'Liberation Sans',Arial,sans-serif;font-variant-ligatures:none;font-size:25px;font-weight:bold" fill="#000" textLength="168.31" lengthAdjust="spacingAndGlyphs">Frequency (&#37;)</text>
<line x1="664.8" y1="1125.3" x2="705.6" y2="1125.3" stroke="#ee1111" stroke-width="2.4" stroke-linecap="round"/>
<rect x="676.1" y="1114.1" width="18" height="22.6" fill="#f09a9a"/>
<text x="729.13" y="1136.2" style="font-family:'Liberation Sans',Arial,sans-serif;font-variant-ligatures:none;font-size:25px;font-weight:normal" fill="#000" text-anchor="start" textLength="67.02" lengthAdjust="spacingAndGlyphs">BAPN</text>
<line x1="664.8" y1="1167.4" x2="705.6" y2="1167.4" stroke="#0c178c" stroke-width="2.4" stroke-linecap="round"/>
<rect x="676.1" y="1156.2" width="18" height="22.6" fill="#8688c6"/>
<text x="729.13" y="1177.9" style="font-family:'Liberation Sans',Arial,sans-serif;font-variant-ligatures:none;font-size:25px;font-weight:normal" fill="#000" text-anchor="start" textLength="87.61" lengthAdjust="spacingAndGlyphs">No drug</text>
<line x1="664.8" y1="1209.1" x2="705.6" y2="1209.1" stroke="#127a2c" stroke-width="2.4" stroke-linecap="round"/>
<rect x="676.1" y="1197.9" width="18" height="22.6" fill="#a7d491"/>
<text x="729.58" y="1219.6" style="font-family:'Liberation Sans',Arial,sans-serif;font-variant-ligatures:none;font-size:25px;font-weight:normal" fill="#000" text-anchor="start" textLength="84.23" lengthAdjust="spacingAndGlyphs">Genipin</text>
<rect x="1168.4" y="1474.5" width="88.4" height="13" fill="#000"/>
<line x1="1212.6" y1="1475.5" x2="1212.6" y2="1473.3" stroke="#000" stroke-width="2.6" stroke-linecap="butt"/>
<rect x="1190.5" y="1472.1" width="43.7" height="3.7" fill="#000"/>
<rect x="1298.2" y="1413.2" width="88.3" height="74.3" fill="#000"/>
<line x1="1342.35" y1="1414.2" x2="1342.35" y2="1398.6" stroke="#000" stroke-width="2.6" stroke-linecap="butt"/>
<line x1="1321.5" y1="1398.6" x2="1362.5" y2="1398.6" stroke="#000" stroke-width="2.6" stroke-linecap="round"/>
<rect x="1427.5" y="1269.9" width="88.9" height="217.6" fill="#000"/>
<line x1="1471.95" y1="1270.9" x2="1471.95" y2="1224.7" stroke="#000" stroke-width="2.6" stroke-linecap="butt"/>
<line x1="1451.1" y1="1224.7" x2="1492.2" y2="1224.7" stroke="#000" stroke-width="2.6" stroke-linecap="round"/>
<line x1="1126.3" y1="1198.6" x2="1126.3" y2="1488.1" stroke="#000" stroke-width="2.9" stroke-linecap="round"/>
<line x1="1118.6" y1="1487.5" x2="1560.4" y2="1487.5" stroke="#000" stroke-width="2.9" stroke-linecap="round"/>
<line x1="1118.6" y1="1415.38" x2="1126.3" y2="1415.38" stroke="#000" stroke-width="2.9" stroke-linecap="round"/>
<line x1="1118.6" y1="1343.25" x2="1126.3" y2="1343.25" stroke="#000" stroke-width="2.9" stroke-linecap="round"/>
<line x1="1118.6" y1="1271.12" x2="1126.3" y2="1271.12" stroke="#000" stroke-width="2.9" stroke-linecap="round"/>
<line x1="1118.6" y1="1199" x2="1126.3" y2="1199" stroke="#000" stroke-width="2.9" stroke-linecap="round"/>
<line x1="1212.3" y1="1487.5" x2="1212.3" y2="1494" stroke="#000" stroke-width="2.9" stroke-linecap="round"/>
<line x1="1342.2" y1="1487.5" x2="1342.2" y2="1494" stroke="#000" stroke-width="2.9" stroke-linecap="round"/>
<line x1="1472.2" y1="1487.5" x2="1472.2" y2="1494" stroke="#000" stroke-width="2.9" stroke-linecap="round"/>
<text x="1058.87" y="1207.6" style="font-family:'Liberation Sans',Arial,sans-serif;font-variant-ligatures:none;font-size:29.3px;font-weight:bold" fill="#000" text-anchor="start">2</text>
<text x="1079.25" y="1207.6" style="font-family:'Liberation Sans',Arial,sans-serif;font-variant-ligatures:none;font-size:29.3px;font-weight:bold" fill="#000" text-anchor="start">00</text>
<text x="1059.14" y="1280.5" style="font-family:'Liberation Sans',Arial,sans-serif;font-variant-ligatures:none;font-size:29.3px;font-weight:bold" fill="#000" text-anchor="start">1</text>
<text x="1079.25" y="1280.5" style="font-family:'Liberation Sans',Arial,sans-serif;font-variant-ligatures:none;font-size:29.3px;font-weight:bold" fill="#000" text-anchor="start">50</text>
<text x="1059.24" y="1352.4" style="font-family:'Liberation Sans',Arial,sans-serif;font-variant-ligatures:none;font-size:29.3px;font-weight:bold" fill="#000" text-anchor="start">1</text>
<text x="1079.85" y="1352.4" style="font-family:'Liberation Sans',Arial,sans-serif;font-variant-ligatures:none;font-size:29.3px;font-weight:bold" fill="#000" text-anchor="start">00</text>
<text x="1071.62" y="1425.7" style="font-family:'Liberation Sans',Arial,sans-serif;font-variant-ligatures:none;font-size:29.3px;font-weight:bold" fill="#000" text-anchor="start">5</text>
<text x="1091.41" y="1425.7" style="font-family:'Liberation Sans',Arial,sans-serif;font-variant-ligatures:none;font-size:29.3px;font-weight:bold" fill="#000" text-anchor="start">0</text>
<text x="1087.98" y="1497.8" style="font-family:'Liberation Sans',Arial,sans-serif;font-variant-ligatures:none;font-size:29.3px;font-weight:bold" fill="#000" text-anchor="start" textLength="16.98" lengthAdjust="spacingAndGlyphs">0</text>
<text x="1172.82" y="1520" style="font-family:'Liberation Sans',Arial,sans-serif;font-variant-ligatures:none;font-size:29.3px;font-weight:bold" fill="#000" text-anchor="start" textLength="81.75" lengthAdjust="spacingAndGlyphs">BAPN</text>
<text x="1294.2" y="1520" style="font-family:'Liberation Sans',Arial,sans-serif;font-variant-ligatures:none;font-size:29.3px;font-weight:bold" fill="#000" text-anchor="start" textLength="111.97" lengthAdjust="spacingAndGlyphs">No drug</text>
<text x="1432.64" y="1520" style="font-family:'Liberation Sans',Arial,sans-serif;font-variant-ligatures:none;font-size:29.3px;font-weight:bold" fill="#000" text-anchor="start" textLength="108.38" lengthAdjust="spacingAndGlyphs">Genipin</text>
<text transform="translate(1030.3 1491.57) rotate(-90)" x="0" y="0" style="font-family:'Liberation Sans',Arial,sans-serif;font-variant-ligatures:none;font-size:29.3px;font-weight:bold" fill="#000" textLength="298.35" lengthAdjust="spacingAndGlyphs">Elastic modulus (kPa)</text>
<line x1="1188.9" y1="1184.05" x2="1465.3" y2="1184.05" stroke="#000" stroke-width="2.4" stroke-linecap="round"/>
<line x1="1338.9" y1="1212.9" x2="1472.8" y2="1212.9" stroke="#000" stroke-width="2.4" stroke-linecap="round"/>
<line x1="1204.3" y1="1389.5" x2="1341.2" y2="1389.5" stroke="#000" stroke-width="2.4" stroke-linecap="round"/>
<text x="1308.87" y="1181.76" style="font-family:'Liberation Sans',Arial,sans-serif;font-variant-ligatures:none;font-size:25.6px;font-weight:bold" fill="#000" text-anchor="start" textLength="31.3" lengthAdjust="spacingAndGlyphs">***</text>
<text x="1396.87" y="1211.86" style="font-family:'Liberation Sans',Arial,sans-serif;font-variant-ligatures:none;font-size:25.6px;font-weight:bold" fill="#000" text-anchor="start" textLength="19.91" lengthAdjust="spacingAndGlyphs">**</text>
<text x="1263.47" y="1388.36" style="font-family:'Liberation Sans',Arial,sans-serif;font-variant-ligatures:none;font-size:25.6px;font-weight:bold" fill="#000" text-anchor="start" textLength="20.52" lengthAdjust="spacingAndGlyphs">**</text>
</svg>
</body></html>
